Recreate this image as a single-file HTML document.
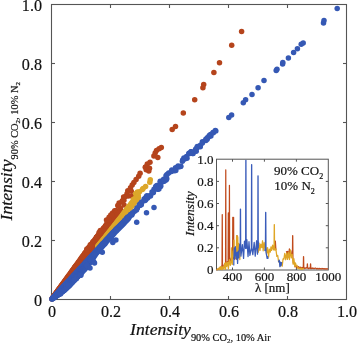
<!DOCTYPE html>
<html><head><meta charset="utf-8"><style>
html,body{margin:0;padding:0;background:#fff;}
svg{display:block;will-change:transform;}
text{font-family:"Liberation Serif",serif;fill:#111;stroke:#111;stroke-width:0.2px;}
.tk{font-size:17px;}
.ti{font-size:17.7px;font-style:italic;}
.sb{font-size:10.4px;font-style:normal;}
.ss{font-size:7px;font-style:normal;}
.it{font-size:13px;}
.iss{font-size:8px;}
</style></head><body>
<svg width="357" height="344" viewBox="0 0 357 344">
<rect x="51.5" y="4.5" width="295" height="295" fill="none" stroke="#555" stroke-width="1.1"/><line x1="110.5" y1="299.5" x2="110.5" y2="296" stroke="#555" stroke-width="1.1"/><line x1="110.5" y1="4.5" x2="110.5" y2="8" stroke="#555" stroke-width="1.1"/><line x1="51.5" y1="240.5" x2="55" y2="240.5" stroke="#555" stroke-width="1.1"/><line x1="346.5" y1="240.5" x2="343" y2="240.5" stroke="#555" stroke-width="1.1"/><line x1="169.5" y1="299.5" x2="169.5" y2="296" stroke="#555" stroke-width="1.1"/><line x1="169.5" y1="4.5" x2="169.5" y2="8" stroke="#555" stroke-width="1.1"/><line x1="51.5" y1="181.5" x2="55" y2="181.5" stroke="#555" stroke-width="1.1"/><line x1="346.5" y1="181.5" x2="343" y2="181.5" stroke="#555" stroke-width="1.1"/><line x1="228.5" y1="299.5" x2="228.5" y2="296" stroke="#555" stroke-width="1.1"/><line x1="228.5" y1="4.5" x2="228.5" y2="8" stroke="#555" stroke-width="1.1"/><line x1="51.5" y1="122.5" x2="55" y2="122.5" stroke="#555" stroke-width="1.1"/><line x1="346.5" y1="122.5" x2="343" y2="122.5" stroke="#555" stroke-width="1.1"/><line x1="287.5" y1="299.5" x2="287.5" y2="296" stroke="#555" stroke-width="1.1"/><line x1="287.5" y1="4.5" x2="287.5" y2="8" stroke="#555" stroke-width="1.1"/><line x1="51.5" y1="63.5" x2="55" y2="63.5" stroke="#555" stroke-width="1.1"/><line x1="346.5" y1="63.5" x2="343" y2="63.5" stroke="#555" stroke-width="1.1"/>
<g><g fill="#b5441c"><circle cx="52.0" cy="298.9" r="2.75"/><circle cx="52.0" cy="298.8" r="2.75"/><circle cx="53.0" cy="297.6" r="2.75"/><circle cx="53.0" cy="297.5" r="2.75"/><circle cx="53.0" cy="297.4" r="2.75"/><circle cx="54.0" cy="296.3" r="2.75"/><circle cx="54.0" cy="296.2" r="2.75"/><circle cx="54.0" cy="296.1" r="2.75"/><circle cx="54.0" cy="296.0" r="2.75"/><circle cx="55.0" cy="295.1" r="2.75"/><circle cx="55.0" cy="295.0" r="2.75"/><circle cx="55.0" cy="294.9" r="2.75"/><circle cx="55.0" cy="294.8" r="2.75"/><circle cx="55.0" cy="294.7" r="2.75"/><circle cx="56.0" cy="293.8" r="2.75"/><circle cx="56.0" cy="293.7" r="2.75"/><circle cx="56.0" cy="293.6" r="2.75"/><circle cx="56.0" cy="293.5" r="2.75"/><circle cx="56.0" cy="293.4" r="2.75"/><circle cx="56.0" cy="293.3" r="2.75"/><circle cx="57.0" cy="292.5" r="2.75"/><circle cx="57.0" cy="292.4" r="2.75"/><circle cx="57.0" cy="292.3" r="2.75"/><circle cx="57.0" cy="292.2" r="2.75"/><circle cx="57.0" cy="292.1" r="2.75"/><circle cx="57.0" cy="292.0" r="2.75"/><circle cx="57.0" cy="291.9" r="2.75"/><circle cx="58.0" cy="291.2" r="2.75"/><circle cx="58.0" cy="291.1" r="2.75"/><circle cx="58.0" cy="291.0" r="2.75"/><circle cx="58.0" cy="290.9" r="2.75"/><circle cx="58.0" cy="290.7" r="2.75"/><circle cx="58.0" cy="290.6" r="2.75"/><circle cx="58.0" cy="290.5" r="2.75"/><circle cx="59.0" cy="290.0" r="2.75"/><circle cx="59.0" cy="289.8" r="2.75"/><circle cx="59.0" cy="289.7" r="2.75"/><circle cx="59.0" cy="289.5" r="2.75"/><circle cx="59.0" cy="289.4" r="2.75"/><circle cx="59.0" cy="289.2" r="2.75"/><circle cx="59.0" cy="289.1" r="2.75"/><circle cx="60.0" cy="288.7" r="2.75"/><circle cx="60.0" cy="288.5" r="2.75"/><circle cx="60.0" cy="288.4" r="2.75"/><circle cx="60.0" cy="288.2" r="2.75"/><circle cx="60.0" cy="288.0" r="2.75"/><circle cx="60.0" cy="287.9" r="2.75"/><circle cx="60.0" cy="287.7" r="2.75"/><circle cx="61.0" cy="287.4" r="2.75"/><circle cx="61.0" cy="287.2" r="2.75"/><circle cx="61.0" cy="287.1" r="2.75"/><circle cx="61.0" cy="286.9" r="2.75"/><circle cx="61.0" cy="286.7" r="2.75"/><circle cx="61.0" cy="286.5" r="2.75"/><circle cx="61.0" cy="286.3" r="2.75"/><circle cx="62.0" cy="286.2" r="2.75"/><circle cx="62.0" cy="286.0" r="2.75"/><circle cx="62.0" cy="285.7" r="2.75"/><circle cx="62.0" cy="285.5" r="2.75"/><circle cx="62.0" cy="285.3" r="2.75"/><circle cx="62.0" cy="285.1" r="2.75"/><circle cx="62.0" cy="285.0" r="2.75"/><circle cx="63.0" cy="284.9" r="2.75"/><circle cx="63.0" cy="284.7" r="2.75"/><circle cx="63.0" cy="284.4" r="2.75"/><circle cx="63.0" cy="284.2" r="2.75"/><circle cx="63.0" cy="284.0" r="2.75"/><circle cx="63.0" cy="283.7" r="2.75"/><circle cx="63.0" cy="283.6" r="2.75"/><circle cx="64.0" cy="283.6" r="2.75"/><circle cx="64.0" cy="283.4" r="2.75"/><circle cx="64.0" cy="283.1" r="2.75"/><circle cx="64.0" cy="282.9" r="2.75"/><circle cx="64.0" cy="282.6" r="2.75"/><circle cx="64.0" cy="282.4" r="2.75"/><circle cx="64.0" cy="282.2" r="2.75"/><circle cx="65.0" cy="282.4" r="2.75"/><circle cx="65.0" cy="282.1" r="2.75"/><circle cx="65.0" cy="281.8" r="2.75"/><circle cx="65.0" cy="281.5" r="2.75"/><circle cx="65.0" cy="281.3" r="2.75"/><circle cx="65.0" cy="281.0" r="2.75"/><circle cx="65.0" cy="280.8" r="2.75"/><circle cx="66.0" cy="281.1" r="2.75"/><circle cx="66.0" cy="280.8" r="2.75"/><circle cx="66.0" cy="280.5" r="2.75"/><circle cx="66.0" cy="280.2" r="2.75"/><circle cx="66.0" cy="279.9" r="2.75"/><circle cx="66.0" cy="279.6" r="2.75"/><circle cx="66.0" cy="279.4" r="2.75"/><circle cx="67.0" cy="279.8" r="2.75"/><circle cx="67.0" cy="279.5" r="2.75"/><circle cx="67.0" cy="279.2" r="2.75"/><circle cx="67.0" cy="278.9" r="2.75"/><circle cx="67.0" cy="278.6" r="2.75"/><circle cx="67.0" cy="278.3" r="2.75"/><circle cx="67.0" cy="278.0" r="2.75"/><circle cx="68.0" cy="278.5" r="2.75"/><circle cx="68.0" cy="278.2" r="2.75"/><circle cx="68.0" cy="277.9" r="2.75"/><circle cx="68.0" cy="277.6" r="2.75"/><circle cx="68.0" cy="277.2" r="2.75"/><circle cx="68.0" cy="276.9" r="2.75"/><circle cx="68.0" cy="276.6" r="2.75"/><circle cx="69.0" cy="277.3" r="2.75"/><circle cx="69.0" cy="276.9" r="2.75"/><circle cx="69.0" cy="276.6" r="2.75"/><circle cx="69.0" cy="276.2" r="2.75"/><circle cx="69.0" cy="275.9" r="2.75"/><circle cx="69.0" cy="275.5" r="2.75"/><circle cx="69.0" cy="275.3" r="2.75"/><circle cx="70.0" cy="276.0" r="2.75"/><circle cx="70.0" cy="275.6" r="2.75"/><circle cx="70.0" cy="275.3" r="2.75"/><circle cx="70.0" cy="274.9" r="2.75"/><circle cx="70.0" cy="274.5" r="2.75"/><circle cx="70.0" cy="274.2" r="2.75"/><circle cx="70.0" cy="273.9" r="2.75"/><circle cx="71.0" cy="274.7" r="2.75"/><circle cx="71.0" cy="274.3" r="2.75"/><circle cx="71.0" cy="274.0" r="2.75"/><circle cx="71.0" cy="273.6" r="2.75"/><circle cx="71.0" cy="273.2" r="2.75"/><circle cx="71.0" cy="272.8" r="2.75"/><circle cx="71.0" cy="272.5" r="2.75"/><circle cx="72.0" cy="273.5" r="2.75"/><circle cx="72.0" cy="273.1" r="2.75"/><circle cx="72.0" cy="272.6" r="2.75"/><circle cx="72.0" cy="272.2" r="2.75"/><circle cx="72.0" cy="271.8" r="2.75"/><circle cx="72.0" cy="271.4" r="2.75"/><circle cx="72.0" cy="271.1" r="2.75"/><circle cx="73.0" cy="272.2" r="2.75"/><circle cx="73.0" cy="271.8" r="2.75"/><circle cx="73.0" cy="271.3" r="2.75"/><circle cx="73.0" cy="270.9" r="2.75"/><circle cx="73.0" cy="270.5" r="2.75"/><circle cx="73.0" cy="270.0" r="2.75"/><circle cx="73.0" cy="269.7" r="2.75"/><circle cx="74.0" cy="270.9" r="2.75"/><circle cx="74.0" cy="270.5" r="2.75"/><circle cx="74.0" cy="270.0" r="2.75"/><circle cx="74.0" cy="269.6" r="2.75"/><circle cx="74.0" cy="269.1" r="2.75"/><circle cx="74.0" cy="268.7" r="2.75"/><circle cx="74.0" cy="268.3" r="2.75"/><circle cx="75.0" cy="269.7" r="2.75"/><circle cx="75.0" cy="269.2" r="2.75"/><circle cx="75.0" cy="268.7" r="2.75"/><circle cx="75.0" cy="268.2" r="2.75"/><circle cx="75.0" cy="267.8" r="2.75"/><circle cx="75.0" cy="267.3" r="2.75"/><circle cx="75.0" cy="267.0" r="2.75"/><circle cx="76.0" cy="268.4" r="2.75"/><circle cx="76.0" cy="267.9" r="2.75"/><circle cx="76.0" cy="267.4" r="2.75"/><circle cx="76.0" cy="266.9" r="2.75"/><circle cx="76.0" cy="266.4" r="2.75"/><circle cx="76.0" cy="265.9" r="2.75"/><circle cx="76.0" cy="265.6" r="2.75"/><circle cx="77.0" cy="267.1" r="2.75"/><circle cx="77.0" cy="266.6" r="2.75"/><circle cx="77.0" cy="266.1" r="2.75"/><circle cx="77.0" cy="265.6" r="2.75"/><circle cx="77.0" cy="265.1" r="2.75"/><circle cx="77.0" cy="264.6" r="2.75"/><circle cx="77.0" cy="264.2" r="2.75"/><circle cx="78.0" cy="265.8" r="2.75"/><circle cx="78.0" cy="265.3" r="2.75"/><circle cx="78.0" cy="264.8" r="2.75"/><circle cx="78.0" cy="264.3" r="2.75"/><circle cx="78.0" cy="263.7" r="2.75"/><circle cx="78.0" cy="263.2" r="2.75"/><circle cx="78.0" cy="262.8" r="2.75"/><circle cx="79.0" cy="264.6" r="2.75"/><circle cx="79.0" cy="264.0" r="2.75"/><circle cx="79.0" cy="263.5" r="2.75"/><circle cx="79.0" cy="262.9" r="2.75"/><circle cx="79.0" cy="262.4" r="2.75"/><circle cx="79.0" cy="261.8" r="2.75"/><circle cx="79.0" cy="261.4" r="2.75"/><circle cx="80.0" cy="263.3" r="2.75"/><circle cx="80.0" cy="262.7" r="2.75"/><circle cx="80.0" cy="262.2" r="2.75"/><circle cx="80.0" cy="261.6" r="2.75"/><circle cx="80.0" cy="261.0" r="2.75"/><circle cx="80.0" cy="260.5" r="2.75"/><circle cx="80.0" cy="260.0" r="2.75"/><circle cx="81.0" cy="262.0" r="2.75"/><circle cx="81.0" cy="261.4" r="2.75"/><circle cx="81.0" cy="260.9" r="2.75"/><circle cx="81.0" cy="260.3" r="2.75"/><circle cx="81.0" cy="259.7" r="2.75"/><circle cx="81.0" cy="259.1" r="2.75"/><circle cx="81.0" cy="258.6" r="2.75"/><circle cx="82.0" cy="260.8" r="2.75"/><circle cx="82.0" cy="260.2" r="2.75"/><circle cx="82.0" cy="259.5" r="2.75"/><circle cx="82.0" cy="258.9" r="2.75"/><circle cx="82.0" cy="258.3" r="2.75"/><circle cx="82.0" cy="257.7" r="2.75"/><circle cx="82.0" cy="257.3" r="2.75"/><circle cx="83.0" cy="259.5" r="2.75"/><circle cx="83.0" cy="258.9" r="2.75"/><circle cx="83.0" cy="258.2" r="2.75"/><circle cx="83.0" cy="257.6" r="2.75"/><circle cx="83.0" cy="257.0" r="2.75"/><circle cx="83.0" cy="256.3" r="2.75"/><circle cx="83.0" cy="255.9" r="2.75"/><circle cx="84.0" cy="258.2" r="2.75"/><circle cx="84.0" cy="257.6" r="2.75"/><circle cx="84.0" cy="256.9" r="2.75"/><circle cx="84.0" cy="256.3" r="2.75"/><circle cx="84.0" cy="255.6" r="2.75"/><circle cx="84.0" cy="255.0" r="2.75"/><circle cx="84.0" cy="254.5" r="2.75"/><circle cx="85.0" cy="257.0" r="2.75"/><circle cx="85.0" cy="256.3" r="2.75"/><circle cx="85.0" cy="255.6" r="2.75"/><circle cx="85.0" cy="254.9" r="2.75"/><circle cx="85.0" cy="254.3" r="2.75"/><circle cx="85.0" cy="253.6" r="2.75"/><circle cx="85.0" cy="253.1" r="2.75"/><circle cx="86.0" cy="255.7" r="2.75"/><circle cx="86.0" cy="255.0" r="2.75"/><circle cx="86.0" cy="254.3" r="2.75"/><circle cx="86.0" cy="253.6" r="2.75"/><circle cx="86.0" cy="252.9" r="2.75"/><circle cx="86.0" cy="252.2" r="2.75"/><circle cx="86.0" cy="251.7" r="2.75"/><circle cx="87.0" cy="254.4" r="2.75"/><circle cx="87.0" cy="253.7" r="2.75"/><circle cx="87.0" cy="253.0" r="2.75"/><circle cx="87.0" cy="252.3" r="2.75"/><circle cx="87.0" cy="251.6" r="2.75"/><circle cx="87.0" cy="250.9" r="2.75"/><circle cx="87.0" cy="250.3" r="2.75"/><circle cx="88.0" cy="253.1" r="2.75"/><circle cx="88.0" cy="252.4" r="2.75"/><circle cx="88.0" cy="251.7" r="2.75"/><circle cx="88.0" cy="251.0" r="2.75"/><circle cx="88.0" cy="250.2" r="2.75"/><circle cx="88.0" cy="249.5" r="2.75"/><circle cx="88.0" cy="248.9" r="2.75"/><circle cx="89.0" cy="251.9" r="2.75"/><circle cx="89.0" cy="251.1" r="2.75"/><circle cx="89.0" cy="250.4" r="2.75"/><circle cx="89.0" cy="249.6" r="2.75"/><circle cx="89.0" cy="248.9" r="2.75"/><circle cx="89.0" cy="248.1" r="2.75"/><circle cx="89.0" cy="247.6" r="2.75"/><circle cx="90.0" cy="250.6" r="2.75"/><circle cx="90.0" cy="249.8" r="2.75"/><circle cx="90.0" cy="249.1" r="2.75"/><circle cx="90.0" cy="248.3" r="2.75"/><circle cx="90.0" cy="247.5" r="2.75"/><circle cx="90.0" cy="246.8" r="2.75"/><circle cx="90.0" cy="246.2" r="2.75"/><circle cx="91.0" cy="249.3" r="2.75"/><circle cx="91.0" cy="248.5" r="2.75"/><circle cx="91.0" cy="247.8" r="2.75"/><circle cx="91.0" cy="247.0" r="2.75"/><circle cx="91.0" cy="246.2" r="2.75"/><circle cx="91.0" cy="245.4" r="2.75"/><circle cx="91.0" cy="244.8" r="2.75"/><circle cx="92.0" cy="248.1" r="2.75"/><circle cx="92.0" cy="247.3" r="2.75"/><circle cx="92.0" cy="246.4" r="2.75"/><circle cx="92.0" cy="245.6" r="2.75"/><circle cx="92.0" cy="244.8" r="2.75"/><circle cx="92.0" cy="244.0" r="2.75"/><circle cx="92.0" cy="243.5" r="2.75"/><circle cx="93.0" cy="246.8" r="2.75"/><circle cx="93.0" cy="246.0" r="2.75"/><circle cx="93.0" cy="245.1" r="2.75"/><circle cx="93.0" cy="244.3" r="2.75"/><circle cx="93.0" cy="243.5" r="2.75"/><circle cx="93.0" cy="242.6" r="2.75"/><circle cx="93.0" cy="242.2" r="2.75"/><circle cx="94.0" cy="245.5" r="2.75"/><circle cx="94.0" cy="244.7" r="2.75"/><circle cx="94.0" cy="243.8" r="2.75"/><circle cx="94.0" cy="243.0" r="2.75"/><circle cx="94.0" cy="242.1" r="2.75"/><circle cx="94.0" cy="241.3" r="2.75"/><circle cx="94.0" cy="240.9" r="2.75"/><circle cx="95.0" cy="244.3" r="2.75"/><circle cx="95.0" cy="243.4" r="2.75"/><circle cx="95.0" cy="242.5" r="2.75"/><circle cx="95.0" cy="241.6" r="2.75"/><circle cx="95.0" cy="240.8" r="2.75"/><circle cx="95.0" cy="239.9" r="2.75"/><circle cx="95.0" cy="239.6" r="2.75"/><circle cx="96.0" cy="243.0" r="2.75"/><circle cx="96.0" cy="242.1" r="2.75"/><circle cx="96.0" cy="241.2" r="2.75"/><circle cx="96.0" cy="240.3" r="2.75"/><circle cx="96.0" cy="239.4" r="2.75"/><circle cx="96.0" cy="238.5" r="2.75"/><circle cx="96.0" cy="238.2" r="2.75"/><circle cx="97.0" cy="241.7" r="2.75"/><circle cx="97.0" cy="240.8" r="2.75"/><circle cx="97.0" cy="239.9" r="2.75"/><circle cx="97.0" cy="239.0" r="2.75"/><circle cx="97.0" cy="238.1" r="2.75"/><circle cx="97.0" cy="237.2" r="2.75"/><circle cx="97.0" cy="236.9" r="2.75"/><circle cx="98.0" cy="240.4" r="2.75"/><circle cx="98.0" cy="239.5" r="2.75"/><circle cx="98.0" cy="238.6" r="2.75"/><circle cx="98.0" cy="237.7" r="2.75"/><circle cx="98.0" cy="236.7" r="2.75"/><circle cx="98.0" cy="235.8" r="2.75"/><circle cx="98.0" cy="235.6" r="2.75"/><circle cx="99.0" cy="239.2" r="2.75"/><circle cx="99.0" cy="238.2" r="2.75"/><circle cx="99.0" cy="237.3" r="2.75"/><circle cx="99.0" cy="236.3" r="2.75"/><circle cx="99.0" cy="235.4" r="2.75"/><circle cx="99.0" cy="234.4" r="2.75"/><circle cx="99.0" cy="234.3" r="2.75"/><circle cx="100.0" cy="237.9" r="2.75"/><circle cx="100.0" cy="236.9" r="2.75"/><circle cx="100.0" cy="236.0" r="2.75"/><circle cx="100.0" cy="235.0" r="2.75"/><circle cx="100.0" cy="234.0" r="2.75"/><circle cx="100.0" cy="233.1" r="2.75"/><circle cx="100.0" cy="233.0" r="2.75"/><circle cx="101.0" cy="236.6" r="2.75"/><circle cx="101.0" cy="235.6" r="2.75"/><circle cx="101.0" cy="234.7" r="2.75"/><circle cx="101.0" cy="233.7" r="2.75"/><circle cx="101.0" cy="232.7" r="2.75"/><circle cx="101.0" cy="231.7" r="2.75"/><circle cx="102.0" cy="235.4" r="2.75"/><circle cx="102.0" cy="234.4" r="2.75"/><circle cx="102.0" cy="233.3" r="2.75"/><circle cx="102.0" cy="232.3" r="2.75"/><circle cx="102.0" cy="231.3" r="2.75"/><circle cx="102.0" cy="230.4" r="2.75"/><circle cx="103.0" cy="234.1" r="2.75"/><circle cx="103.0" cy="233.1" r="2.75"/><circle cx="103.0" cy="232.0" r="2.75"/><circle cx="103.0" cy="231.0" r="2.75"/><circle cx="103.0" cy="230.0" r="2.75"/><circle cx="103.0" cy="229.1" r="2.75"/><circle cx="104.0" cy="232.8" r="2.75"/><circle cx="104.0" cy="231.8" r="2.75"/><circle cx="104.0" cy="230.7" r="2.75"/><circle cx="104.0" cy="229.7" r="2.75"/><circle cx="104.0" cy="228.6" r="2.75"/><circle cx="104.0" cy="227.8" r="2.75"/><circle cx="64.4" cy="282.3" r="2.75"/><circle cx="71.2" cy="273.0" r="2.75"/><circle cx="84.5" cy="257.6" r="2.75"/><circle cx="52.7" cy="297.9" r="2.75"/><circle cx="65.5" cy="281.4" r="2.75"/><circle cx="103.8" cy="230.8" r="2.75"/><circle cx="95.5" cy="241.4" r="2.75"/><circle cx="85.2" cy="256.3" r="2.75"/><circle cx="85.0" cy="253.3" r="2.75"/><circle cx="79.2" cy="261.8" r="2.75"/><circle cx="86.9" cy="254.6" r="2.75"/><circle cx="91.4" cy="246.1" r="2.75"/><circle cx="67.7" cy="279.1" r="2.75"/><circle cx="97.0" cy="239.5" r="2.75"/><circle cx="89.4" cy="247.3" r="2.75"/><circle cx="89.1" cy="247.4" r="2.75"/><circle cx="72.5" cy="270.7" r="2.75"/><circle cx="75.1" cy="266.8" r="2.75"/><circle cx="97.7" cy="240.7" r="2.75"/><circle cx="59.1" cy="289.7" r="2.75"/><circle cx="102.2" cy="233.0" r="2.75"/><circle cx="84.6" cy="256.5" r="2.75"/><circle cx="78.4" cy="264.2" r="2.75"/><circle cx="70.2" cy="274.4" r="2.75"/><circle cx="82.4" cy="256.8" r="2.75"/><circle cx="87.5" cy="249.7" r="2.75"/><circle cx="96.5" cy="237.2" r="2.75"/><circle cx="86.9" cy="254.1" r="2.75"/><circle cx="96.8" cy="237.0" r="2.75"/><circle cx="104.0" cy="231.2" r="2.75"/><circle cx="104.0" cy="228.1" r="2.75"/><circle cx="105.5" cy="230.9" r="2.75"/><circle cx="105.5" cy="229.3" r="2.75"/><circle cx="105.5" cy="227.7" r="2.75"/><circle cx="105.5" cy="226.1" r="2.75"/><circle cx="105.5" cy="225.7" r="2.75"/><circle cx="107.0" cy="229.0" r="2.75"/><circle cx="107.0" cy="227.3" r="2.75"/><circle cx="107.0" cy="225.7" r="2.75"/><circle cx="107.0" cy="224.0" r="2.75"/><circle cx="107.0" cy="223.5" r="2.75"/><circle cx="108.5" cy="227.1" r="2.75"/><circle cx="108.5" cy="225.4" r="2.75"/><circle cx="108.5" cy="223.7" r="2.75"/><circle cx="108.5" cy="222.0" r="2.75"/><circle cx="108.5" cy="221.4" r="2.75"/><circle cx="110.0" cy="225.2" r="2.75"/><circle cx="110.0" cy="223.4" r="2.75"/><circle cx="110.0" cy="221.7" r="2.75"/><circle cx="110.0" cy="219.9" r="2.75"/><circle cx="110.0" cy="219.2" r="2.75"/><circle cx="111.5" cy="223.3" r="2.75"/><circle cx="111.5" cy="221.5" r="2.75"/><circle cx="111.5" cy="219.7" r="2.75"/><circle cx="111.5" cy="217.9" r="2.75"/><circle cx="111.5" cy="217.0" r="2.75"/><circle cx="113.0" cy="221.4" r="2.75"/><circle cx="113.0" cy="219.6" r="2.75"/><circle cx="113.0" cy="217.7" r="2.75"/><circle cx="113.0" cy="215.9" r="2.75"/><circle cx="113.0" cy="214.9" r="2.75"/><circle cx="114.5" cy="219.5" r="2.75"/><circle cx="114.5" cy="217.6" r="2.75"/><circle cx="114.5" cy="215.7" r="2.75"/><circle cx="114.5" cy="213.8" r="2.75"/><circle cx="114.5" cy="212.7" r="2.75"/><circle cx="116.0" cy="217.6" r="2.75"/><circle cx="116.0" cy="215.6" r="2.75"/><circle cx="116.0" cy="213.7" r="2.75"/><circle cx="116.0" cy="211.8" r="2.75"/><circle cx="116.0" cy="210.5" r="2.75"/><circle cx="106.0" cy="226.4" r="2.75"/><circle cx="111.6" cy="220.2" r="2.75"/><circle cx="106.6" cy="224.9" r="2.75"/><circle cx="113.7" cy="217.1" r="2.75"/><circle cx="110.1" cy="224.0" r="2.75"/><circle cx="104.0" cy="231.1" r="2.75"/><circle cx="111.0" cy="224.0" r="2.75"/><circle cx="113.5" cy="219.5" r="2.75"/><circle cx="106.8" cy="229.6" r="2.75"/><circle cx="116.0" cy="212.1" r="2.75"/><circle cx="114.5" cy="215.1" r="2.75"/><circle cx="104.4" cy="230.8" r="2.75"/><circle cx="110.0" cy="225.0" r="2.75"/><circle cx="115.4" cy="215.9" r="2.75"/><circle cx="105.9" cy="225.8" r="2.75"/><circle cx="241.6" cy="31.6" r="2.75"/><circle cx="231.7" cy="45.3" r="2.75"/><circle cx="219.5" cy="62.8" r="2.75"/><circle cx="213.9" cy="72.4" r="2.75"/><circle cx="203.7" cy="84.6" r="2.75"/><circle cx="202.9" cy="87.8" r="2.75"/><circle cx="194.7" cy="99.8" r="2.75"/><circle cx="183.3" cy="113.0" r="2.75"/><circle cx="175.5" cy="126.4" r="2.75"/><circle cx="172.2" cy="129.5" r="2.75"/><circle cx="161.3" cy="147.4" r="2.75"/><circle cx="159.1" cy="148.7" r="2.75"/><circle cx="156.5" cy="150.5" r="2.75"/><circle cx="155.2" cy="153.1" r="2.75"/><circle cx="153.9" cy="156.1" r="2.75"/><circle cx="157.8" cy="157.4" r="2.75"/><circle cx="150.0" cy="162.2" r="2.75"/><circle cx="147.3" cy="164.0" r="2.75"/><circle cx="145.6" cy="167.0" r="2.75"/><circle cx="149.5" cy="168.3" r="2.75"/><circle cx="145.3" cy="167.2" r="2.75"/><circle cx="146.2" cy="169.8" r="2.75"/><circle cx="148.8" cy="171.1" r="2.75"/><circle cx="140.1" cy="173.3" r="2.75"/><circle cx="138.7" cy="176.3" r="2.75"/><circle cx="136.1" cy="179.4" r="2.75"/><circle cx="133.9" cy="182.4" r="2.75"/><circle cx="132.2" cy="185.1" r="2.75"/><circle cx="130.5" cy="187.7" r="2.75"/><circle cx="127.8" cy="190.7" r="2.75"/><circle cx="131.3" cy="191.2" r="2.75"/><circle cx="127.0" cy="193.8" r="2.75"/><circle cx="132.2" cy="196.3" r="2.75"/><circle cx="125.5" cy="196.5" r="2.75"/><circle cx="128.5" cy="196.0" r="2.75"/><circle cx="123.9" cy="200.3" r="2.75"/><circle cx="122.2" cy="201.6" r="2.75"/><circle cx="119.1" cy="202.9" r="2.75"/><circle cx="117.8" cy="205.5" r="2.75"/><circle cx="120.4" cy="208.6" r="2.75"/><circle cx="114.7" cy="210.7" r="2.75"/><circle cx="112.6" cy="212.9" r="2.75"/><circle cx="110.8" cy="215.1" r="2.75"/><circle cx="109.1" cy="217.3" r="2.75"/><circle cx="106.5" cy="219.9" r="2.75"/><circle cx="116.9" cy="214.7" r="2.75"/><circle cx="121.3" cy="211.2" r="2.75"/><circle cx="124.0" cy="205.0" r="2.75"/><circle cx="119.0" cy="213.0" r="2.75"/><circle cx="113.0" cy="217.0" r="2.75"/><circle cx="110.0" cy="220.5" r="2.75"/><circle cx="100.3" cy="230.4" r="2.75"/><circle cx="118.5" cy="205.9" r="2.75"/><circle cx="93.0" cy="241.8" r="2.75"/><circle cx="88.7" cy="247.8" r="2.75"/><circle cx="90.3" cy="244.7" r="2.75"/><circle cx="123.6" cy="197.1" r="2.75"/><circle cx="99.1" cy="232.4" r="2.75"/><circle cx="111.7" cy="215.0" r="2.75"/><circle cx="86.9" cy="248.9" r="2.75"/><circle cx="108.7" cy="219.7" r="2.75"/><circle cx="86.8" cy="250.3" r="2.75"/><circle cx="122.4" cy="200.7" r="2.75"/></g><g fill="#dca72a"><circle cx="98.0" cy="246.7" r="2.75"/><circle cx="98.0" cy="246.3" r="2.75"/><circle cx="98.0" cy="246.0" r="2.75"/><circle cx="99.0" cy="245.5" r="2.75"/><circle cx="99.0" cy="245.1" r="2.75"/><circle cx="99.0" cy="244.8" r="2.75"/><circle cx="100.0" cy="244.3" r="2.75"/><circle cx="100.0" cy="243.8" r="2.75"/><circle cx="100.0" cy="243.6" r="2.75"/><circle cx="101.0" cy="243.1" r="2.75"/><circle cx="101.0" cy="242.6" r="2.75"/><circle cx="101.0" cy="242.3" r="2.75"/><circle cx="102.0" cy="241.9" r="2.75"/><circle cx="102.0" cy="241.4" r="2.75"/><circle cx="102.0" cy="241.1" r="2.75"/><circle cx="103.0" cy="240.7" r="2.75"/><circle cx="103.0" cy="240.2" r="2.75"/><circle cx="103.0" cy="239.8" r="2.75"/><circle cx="104.0" cy="239.5" r="2.75"/><circle cx="104.0" cy="239.0" r="2.75"/><circle cx="104.0" cy="238.6" r="2.75"/><circle cx="105.0" cy="238.3" r="2.75"/><circle cx="105.0" cy="237.8" r="2.75"/><circle cx="105.0" cy="237.4" r="2.75"/><circle cx="106.0" cy="237.1" r="2.75"/><circle cx="106.0" cy="236.6" r="2.75"/><circle cx="106.0" cy="236.1" r="2.75"/><circle cx="107.0" cy="235.9" r="2.75"/><circle cx="107.0" cy="235.3" r="2.75"/><circle cx="107.0" cy="234.8" r="2.75"/><circle cx="108.0" cy="234.7" r="2.75"/><circle cx="108.0" cy="234.1" r="2.75"/><circle cx="108.0" cy="233.6" r="2.75"/><circle cx="109.0" cy="233.4" r="2.75"/><circle cx="109.0" cy="232.9" r="2.75"/><circle cx="109.0" cy="232.3" r="2.75"/><circle cx="110.0" cy="232.2" r="2.75"/><circle cx="110.0" cy="231.6" r="2.75"/><circle cx="110.0" cy="231.1" r="2.75"/><circle cx="111.0" cy="231.0" r="2.75"/><circle cx="111.0" cy="230.4" r="2.75"/><circle cx="111.0" cy="229.8" r="2.75"/><circle cx="112.0" cy="229.8" r="2.75"/><circle cx="112.0" cy="229.2" r="2.75"/><circle cx="112.0" cy="228.6" r="2.75"/><circle cx="112.0" cy="228.5" r="2.75"/><circle cx="113.0" cy="228.6" r="2.75"/><circle cx="113.0" cy="228.0" r="2.75"/><circle cx="113.0" cy="227.4" r="2.75"/><circle cx="113.0" cy="227.3" r="2.75"/><circle cx="114.0" cy="227.5" r="2.75"/><circle cx="114.0" cy="226.8" r="2.75"/><circle cx="114.0" cy="226.2" r="2.75"/><circle cx="114.0" cy="226.0" r="2.75"/><circle cx="115.0" cy="226.3" r="2.75"/><circle cx="115.0" cy="225.6" r="2.75"/><circle cx="115.0" cy="225.0" r="2.75"/><circle cx="115.0" cy="224.7" r="2.75"/><circle cx="116.0" cy="225.1" r="2.75"/><circle cx="116.0" cy="224.4" r="2.75"/><circle cx="116.0" cy="223.8" r="2.75"/><circle cx="116.0" cy="223.4" r="2.75"/><circle cx="117.0" cy="223.9" r="2.75"/><circle cx="117.0" cy="223.2" r="2.75"/><circle cx="117.0" cy="222.6" r="2.75"/><circle cx="117.0" cy="222.1" r="2.75"/><circle cx="118.0" cy="222.7" r="2.75"/><circle cx="118.0" cy="222.0" r="2.75"/><circle cx="118.0" cy="221.3" r="2.75"/><circle cx="118.0" cy="220.8" r="2.75"/><circle cx="119.0" cy="221.5" r="2.75"/><circle cx="119.0" cy="220.8" r="2.75"/><circle cx="119.0" cy="220.1" r="2.75"/><circle cx="119.0" cy="219.6" r="2.75"/><circle cx="120.0" cy="220.3" r="2.75"/><circle cx="120.0" cy="219.6" r="2.75"/><circle cx="120.0" cy="218.9" r="2.75"/><circle cx="120.0" cy="218.3" r="2.75"/><circle cx="121.0" cy="219.1" r="2.75"/><circle cx="121.0" cy="218.4" r="2.75"/><circle cx="121.0" cy="217.7" r="2.75"/><circle cx="121.0" cy="217.0" r="2.75"/><circle cx="122.0" cy="217.8" r="2.75"/><circle cx="122.0" cy="217.1" r="2.75"/><circle cx="122.0" cy="216.4" r="2.75"/><circle cx="122.0" cy="215.7" r="2.75"/><circle cx="123.0" cy="216.6" r="2.75"/><circle cx="123.0" cy="215.9" r="2.75"/><circle cx="123.0" cy="215.2" r="2.75"/><circle cx="123.0" cy="214.5" r="2.75"/><circle cx="123.0" cy="214.4" r="2.75"/><circle cx="124.0" cy="215.4" r="2.75"/><circle cx="124.0" cy="214.7" r="2.75"/><circle cx="124.0" cy="214.0" r="2.75"/><circle cx="124.0" cy="213.3" r="2.75"/><circle cx="124.0" cy="213.1" r="2.75"/><circle cx="125.0" cy="214.2" r="2.75"/><circle cx="125.0" cy="213.5" r="2.75"/><circle cx="125.0" cy="212.8" r="2.75"/><circle cx="125.0" cy="212.0" r="2.75"/><circle cx="125.0" cy="211.8" r="2.75"/><circle cx="126.0" cy="213.0" r="2.75"/><circle cx="126.0" cy="212.3" r="2.75"/><circle cx="126.0" cy="211.5" r="2.75"/><circle cx="126.0" cy="210.8" r="2.75"/><circle cx="126.0" cy="210.4" r="2.75"/><circle cx="127.0" cy="211.8" r="2.75"/><circle cx="127.0" cy="211.0" r="2.75"/><circle cx="127.0" cy="210.3" r="2.75"/><circle cx="127.0" cy="209.5" r="2.75"/><circle cx="127.0" cy="209.1" r="2.75"/><circle cx="128.0" cy="210.6" r="2.75"/><circle cx="128.0" cy="209.8" r="2.75"/><circle cx="128.0" cy="209.1" r="2.75"/><circle cx="128.0" cy="208.3" r="2.75"/><circle cx="128.0" cy="207.8" r="2.75"/><circle cx="129.0" cy="209.4" r="2.75"/><circle cx="129.0" cy="208.6" r="2.75"/><circle cx="129.0" cy="207.8" r="2.75"/><circle cx="129.0" cy="207.0" r="2.75"/><circle cx="129.0" cy="206.5" r="2.75"/><circle cx="130.0" cy="208.2" r="2.75"/><circle cx="130.0" cy="207.4" r="2.75"/><circle cx="130.0" cy="206.6" r="2.75"/><circle cx="130.0" cy="205.8" r="2.75"/><circle cx="130.0" cy="205.2" r="2.75"/><circle cx="131.0" cy="206.9" r="2.75"/><circle cx="131.0" cy="206.1" r="2.75"/><circle cx="131.0" cy="205.3" r="2.75"/><circle cx="131.0" cy="204.6" r="2.75"/><circle cx="131.0" cy="203.8" r="2.75"/><circle cx="132.0" cy="205.7" r="2.75"/><circle cx="132.0" cy="204.9" r="2.75"/><circle cx="132.0" cy="204.1" r="2.75"/><circle cx="132.0" cy="203.3" r="2.75"/><circle cx="132.0" cy="202.5" r="2.75"/><circle cx="133.0" cy="204.5" r="2.75"/><circle cx="133.0" cy="203.7" r="2.75"/><circle cx="133.0" cy="202.9" r="2.75"/><circle cx="133.0" cy="202.0" r="2.75"/><circle cx="133.0" cy="201.3" r="2.75"/><circle cx="134.0" cy="203.2" r="2.75"/><circle cx="134.0" cy="202.4" r="2.75"/><circle cx="134.0" cy="201.6" r="2.75"/><circle cx="134.0" cy="200.8" r="2.75"/><circle cx="134.0" cy="200.1" r="2.75"/><circle cx="135.0" cy="202.0" r="2.75"/><circle cx="135.0" cy="201.2" r="2.75"/><circle cx="135.0" cy="200.3" r="2.75"/><circle cx="135.0" cy="199.5" r="2.75"/><circle cx="135.0" cy="198.9" r="2.75"/><circle cx="136.0" cy="200.8" r="2.75"/><circle cx="136.0" cy="199.9" r="2.75"/><circle cx="136.0" cy="199.1" r="2.75"/><circle cx="136.0" cy="198.2" r="2.75"/><circle cx="136.0" cy="197.7" r="2.75"/><circle cx="137.0" cy="199.5" r="2.75"/><circle cx="137.0" cy="198.7" r="2.75"/><circle cx="137.0" cy="197.8" r="2.75"/><circle cx="137.0" cy="197.0" r="2.75"/><circle cx="137.0" cy="196.5" r="2.75"/><circle cx="138.0" cy="198.3" r="2.75"/><circle cx="138.0" cy="197.4" r="2.75"/><circle cx="138.0" cy="196.6" r="2.75"/><circle cx="138.0" cy="195.7" r="2.75"/><circle cx="138.0" cy="195.3" r="2.75"/><circle cx="150.3" cy="179.8" r="2.75"/><circle cx="149.8" cy="182.3" r="2.75"/><circle cx="145.6" cy="186.5" r="2.75"/><circle cx="143.1" cy="188.5" r="2.75"/><circle cx="142.4" cy="189.4" r="2.75"/><circle cx="139.5" cy="191.7" r="2.75"/><circle cx="136.6" cy="193.4" r="2.75"/><circle cx="135.7" cy="193.8" r="2.75"/><circle cx="137.4" cy="192.0" r="2.75"/><circle cx="133.5" cy="199.2" r="2.75"/></g><g fill="#3558b4"><circle cx="52.0" cy="299.1" r="2.75"/><circle cx="52.0" cy="299.0" r="2.75"/><circle cx="53.0" cy="298.4" r="2.75"/><circle cx="53.0" cy="298.3" r="2.75"/><circle cx="53.0" cy="298.2" r="2.75"/><circle cx="53.0" cy="298.1" r="2.75"/><circle cx="53.0" cy="298.0" r="2.75"/><circle cx="53.0" cy="297.9" r="2.75"/><circle cx="54.0" cy="297.7" r="2.75"/><circle cx="54.0" cy="297.6" r="2.75"/><circle cx="54.0" cy="297.5" r="2.75"/><circle cx="54.0" cy="297.4" r="2.75"/><circle cx="54.0" cy="297.3" r="2.75"/><circle cx="54.0" cy="297.2" r="2.75"/><circle cx="54.0" cy="297.1" r="2.75"/><circle cx="54.0" cy="297.0" r="2.75"/><circle cx="54.0" cy="296.9" r="2.75"/><circle cx="54.0" cy="296.8" r="2.75"/><circle cx="55.0" cy="297.0" r="2.75"/><circle cx="55.0" cy="296.9" r="2.75"/><circle cx="55.0" cy="296.8" r="2.75"/><circle cx="55.0" cy="296.7" r="2.75"/><circle cx="55.0" cy="296.6" r="2.75"/><circle cx="55.0" cy="296.5" r="2.75"/><circle cx="55.0" cy="296.4" r="2.75"/><circle cx="55.0" cy="296.3" r="2.75"/><circle cx="55.0" cy="296.2" r="2.75"/><circle cx="55.0" cy="296.1" r="2.75"/><circle cx="55.0" cy="296.0" r="2.75"/><circle cx="55.0" cy="295.9" r="2.75"/><circle cx="55.0" cy="295.8" r="2.75"/><circle cx="55.0" cy="295.7" r="2.75"/><circle cx="56.0" cy="296.3" r="2.75"/><circle cx="56.0" cy="296.2" r="2.75"/><circle cx="56.0" cy="296.1" r="2.75"/><circle cx="56.0" cy="296.0" r="2.75"/><circle cx="56.0" cy="295.9" r="2.75"/><circle cx="56.0" cy="295.8" r="2.75"/><circle cx="56.0" cy="295.7" r="2.75"/><circle cx="56.0" cy="295.6" r="2.75"/><circle cx="56.0" cy="295.5" r="2.75"/><circle cx="56.0" cy="295.4" r="2.75"/><circle cx="56.0" cy="295.3" r="2.75"/><circle cx="56.0" cy="295.2" r="2.75"/><circle cx="56.0" cy="295.1" r="2.75"/><circle cx="56.0" cy="295.0" r="2.75"/><circle cx="56.0" cy="294.9" r="2.75"/><circle cx="56.0" cy="294.8" r="2.75"/><circle cx="56.0" cy="294.7" r="2.75"/><circle cx="56.0" cy="294.6" r="2.75"/><circle cx="57.0" cy="295.6" r="2.75"/><circle cx="57.0" cy="295.5" r="2.75"/><circle cx="57.0" cy="295.4" r="2.75"/><circle cx="57.0" cy="295.3" r="2.75"/><circle cx="57.0" cy="295.2" r="2.75"/><circle cx="57.0" cy="295.1" r="2.75"/><circle cx="57.0" cy="294.9" r="2.75"/><circle cx="57.0" cy="294.8" r="2.75"/><circle cx="57.0" cy="294.7" r="2.75"/><circle cx="57.0" cy="294.6" r="2.75"/><circle cx="57.0" cy="294.5" r="2.75"/><circle cx="57.0" cy="294.4" r="2.75"/><circle cx="57.0" cy="294.3" r="2.75"/><circle cx="57.0" cy="294.2" r="2.75"/><circle cx="57.0" cy="294.1" r="2.75"/><circle cx="57.0" cy="294.0" r="2.75"/><circle cx="57.0" cy="293.8" r="2.75"/><circle cx="57.0" cy="293.7" r="2.75"/><circle cx="57.0" cy="293.6" r="2.75"/><circle cx="57.0" cy="293.5" r="2.75"/><circle cx="58.0" cy="294.9" r="2.75"/><circle cx="58.0" cy="294.8" r="2.75"/><circle cx="58.0" cy="294.6" r="2.75"/><circle cx="58.0" cy="294.5" r="2.75"/><circle cx="58.0" cy="294.4" r="2.75"/><circle cx="58.0" cy="294.2" r="2.75"/><circle cx="58.0" cy="294.1" r="2.75"/><circle cx="58.0" cy="294.0" r="2.75"/><circle cx="58.0" cy="293.8" r="2.75"/><circle cx="58.0" cy="293.7" r="2.75"/><circle cx="58.0" cy="293.6" r="2.75"/><circle cx="58.0" cy="293.5" r="2.75"/><circle cx="58.0" cy="293.3" r="2.75"/><circle cx="58.0" cy="293.2" r="2.75"/><circle cx="58.0" cy="293.1" r="2.75"/><circle cx="58.0" cy="292.9" r="2.75"/><circle cx="58.0" cy="292.8" r="2.75"/><circle cx="58.0" cy="292.7" r="2.75"/><circle cx="58.0" cy="292.5" r="2.75"/><circle cx="58.0" cy="292.4" r="2.75"/><circle cx="59.0" cy="294.2" r="2.75"/><circle cx="59.0" cy="294.0" r="2.75"/><circle cx="59.0" cy="293.9" r="2.75"/><circle cx="59.0" cy="293.7" r="2.75"/><circle cx="59.0" cy="293.6" r="2.75"/><circle cx="59.0" cy="293.4" r="2.75"/><circle cx="59.0" cy="293.3" r="2.75"/><circle cx="59.0" cy="293.1" r="2.75"/><circle cx="59.0" cy="293.0" r="2.75"/><circle cx="59.0" cy="292.8" r="2.75"/><circle cx="59.0" cy="292.7" r="2.75"/><circle cx="59.0" cy="292.5" r="2.75"/><circle cx="59.0" cy="292.4" r="2.75"/><circle cx="59.0" cy="292.2" r="2.75"/><circle cx="59.0" cy="292.1" r="2.75"/><circle cx="59.0" cy="291.9" r="2.75"/><circle cx="59.0" cy="291.8" r="2.75"/><circle cx="59.0" cy="291.6" r="2.75"/><circle cx="59.0" cy="291.5" r="2.75"/><circle cx="59.0" cy="291.3" r="2.75"/><circle cx="60.0" cy="293.4" r="2.75"/><circle cx="60.0" cy="293.3" r="2.75"/><circle cx="60.0" cy="293.1" r="2.75"/><circle cx="60.0" cy="292.9" r="2.75"/><circle cx="60.0" cy="292.8" r="2.75"/><circle cx="60.0" cy="292.6" r="2.75"/><circle cx="60.0" cy="292.4" r="2.75"/><circle cx="60.0" cy="292.2" r="2.75"/><circle cx="60.0" cy="292.1" r="2.75"/><circle cx="60.0" cy="291.9" r="2.75"/><circle cx="60.0" cy="291.7" r="2.75"/><circle cx="60.0" cy="291.6" r="2.75"/><circle cx="60.0" cy="291.4" r="2.75"/><circle cx="60.0" cy="291.2" r="2.75"/><circle cx="60.0" cy="291.1" r="2.75"/><circle cx="60.0" cy="290.9" r="2.75"/><circle cx="60.0" cy="290.7" r="2.75"/><circle cx="60.0" cy="290.5" r="2.75"/><circle cx="60.0" cy="290.4" r="2.75"/><circle cx="60.0" cy="290.2" r="2.75"/><circle cx="61.0" cy="292.7" r="2.75"/><circle cx="61.0" cy="292.5" r="2.75"/><circle cx="61.0" cy="292.3" r="2.75"/><circle cx="61.0" cy="292.1" r="2.75"/><circle cx="61.0" cy="291.9" r="2.75"/><circle cx="61.0" cy="291.8" r="2.75"/><circle cx="61.0" cy="291.6" r="2.75"/><circle cx="61.0" cy="291.4" r="2.75"/><circle cx="61.0" cy="291.2" r="2.75"/><circle cx="61.0" cy="291.0" r="2.75"/><circle cx="61.0" cy="290.8" r="2.75"/><circle cx="61.0" cy="290.6" r="2.75"/><circle cx="61.0" cy="290.4" r="2.75"/><circle cx="61.0" cy="290.2" r="2.75"/><circle cx="61.0" cy="290.0" r="2.75"/><circle cx="61.0" cy="289.9" r="2.75"/><circle cx="61.0" cy="289.7" r="2.75"/><circle cx="61.0" cy="289.5" r="2.75"/><circle cx="61.0" cy="289.3" r="2.75"/><circle cx="61.0" cy="289.2" r="2.75"/><circle cx="62.0" cy="292.0" r="2.75"/><circle cx="62.0" cy="291.8" r="2.75"/><circle cx="62.0" cy="291.6" r="2.75"/><circle cx="62.0" cy="291.3" r="2.75"/><circle cx="62.0" cy="291.1" r="2.75"/><circle cx="62.0" cy="290.9" r="2.75"/><circle cx="62.0" cy="290.7" r="2.75"/><circle cx="62.0" cy="290.5" r="2.75"/><circle cx="62.0" cy="290.3" r="2.75"/><circle cx="62.0" cy="290.1" r="2.75"/><circle cx="62.0" cy="289.9" r="2.75"/><circle cx="62.0" cy="289.7" r="2.75"/><circle cx="62.0" cy="289.5" r="2.75"/><circle cx="62.0" cy="289.2" r="2.75"/><circle cx="62.0" cy="289.0" r="2.75"/><circle cx="62.0" cy="288.8" r="2.75"/><circle cx="62.0" cy="288.6" r="2.75"/><circle cx="62.0" cy="288.4" r="2.75"/><circle cx="62.0" cy="288.2" r="2.75"/><circle cx="62.0" cy="288.1" r="2.75"/><circle cx="63.0" cy="291.2" r="2.75"/><circle cx="63.0" cy="291.0" r="2.75"/><circle cx="63.0" cy="290.8" r="2.75"/><circle cx="63.0" cy="290.5" r="2.75"/><circle cx="63.0" cy="290.3" r="2.75"/><circle cx="63.0" cy="290.1" r="2.75"/><circle cx="63.0" cy="289.9" r="2.75"/><circle cx="63.0" cy="289.6" r="2.75"/><circle cx="63.0" cy="289.4" r="2.75"/><circle cx="63.0" cy="289.2" r="2.75"/><circle cx="63.0" cy="288.9" r="2.75"/><circle cx="63.0" cy="288.7" r="2.75"/><circle cx="63.0" cy="288.5" r="2.75"/><circle cx="63.0" cy="288.2" r="2.75"/><circle cx="63.0" cy="288.0" r="2.75"/><circle cx="63.0" cy="287.8" r="2.75"/><circle cx="63.0" cy="287.6" r="2.75"/><circle cx="63.0" cy="287.3" r="2.75"/><circle cx="63.0" cy="287.1" r="2.75"/><circle cx="63.0" cy="287.0" r="2.75"/><circle cx="64.0" cy="290.5" r="2.75"/><circle cx="64.0" cy="290.2" r="2.75"/><circle cx="64.0" cy="290.0" r="2.75"/><circle cx="64.0" cy="289.8" r="2.75"/><circle cx="64.0" cy="289.5" r="2.75"/><circle cx="64.0" cy="289.2" r="2.75"/><circle cx="64.0" cy="289.0" r="2.75"/><circle cx="64.0" cy="288.8" r="2.75"/><circle cx="64.0" cy="288.5" r="2.75"/><circle cx="64.0" cy="288.2" r="2.75"/><circle cx="64.0" cy="288.0" r="2.75"/><circle cx="64.0" cy="287.8" r="2.75"/><circle cx="64.0" cy="287.5" r="2.75"/><circle cx="64.0" cy="287.2" r="2.75"/><circle cx="64.0" cy="287.0" r="2.75"/><circle cx="64.0" cy="286.8" r="2.75"/><circle cx="64.0" cy="286.5" r="2.75"/><circle cx="64.0" cy="286.2" r="2.75"/><circle cx="64.0" cy="286.0" r="2.75"/><circle cx="64.0" cy="285.9" r="2.75"/><circle cx="65.0" cy="289.6" r="2.75"/><circle cx="65.0" cy="289.4" r="2.75"/><circle cx="65.0" cy="289.1" r="2.75"/><circle cx="65.0" cy="288.8" r="2.75"/><circle cx="65.0" cy="288.5" r="2.75"/><circle cx="65.0" cy="288.3" r="2.75"/><circle cx="65.0" cy="288.0" r="2.75"/><circle cx="65.0" cy="287.7" r="2.75"/><circle cx="65.0" cy="287.5" r="2.75"/><circle cx="65.0" cy="287.2" r="2.75"/><circle cx="65.0" cy="286.9" r="2.75"/><circle cx="65.0" cy="286.7" r="2.75"/><circle cx="65.0" cy="286.4" r="2.75"/><circle cx="65.0" cy="286.1" r="2.75"/><circle cx="65.0" cy="285.8" r="2.75"/><circle cx="65.0" cy="285.6" r="2.75"/><circle cx="65.0" cy="285.3" r="2.75"/><circle cx="65.0" cy="285.0" r="2.75"/><circle cx="65.0" cy="284.8" r="2.75"/><circle cx="66.0" cy="288.7" r="2.75"/><circle cx="66.0" cy="288.4" r="2.75"/><circle cx="66.0" cy="288.1" r="2.75"/><circle cx="66.0" cy="287.8" r="2.75"/><circle cx="66.0" cy="287.6" r="2.75"/><circle cx="66.0" cy="287.3" r="2.75"/><circle cx="66.0" cy="287.0" r="2.75"/><circle cx="66.0" cy="286.7" r="2.75"/><circle cx="66.0" cy="286.4" r="2.75"/><circle cx="66.0" cy="286.1" r="2.75"/><circle cx="66.0" cy="285.8" r="2.75"/><circle cx="66.0" cy="285.5" r="2.75"/><circle cx="66.0" cy="285.2" r="2.75"/><circle cx="66.0" cy="284.9" r="2.75"/><circle cx="66.0" cy="284.7" r="2.75"/><circle cx="66.0" cy="284.4" r="2.75"/><circle cx="66.0" cy="284.1" r="2.75"/><circle cx="66.0" cy="283.8" r="2.75"/><circle cx="66.0" cy="283.7" r="2.75"/><circle cx="67.0" cy="287.8" r="2.75"/><circle cx="67.0" cy="287.5" r="2.75"/><circle cx="67.0" cy="287.2" r="2.75"/><circle cx="67.0" cy="286.9" r="2.75"/><circle cx="67.0" cy="286.6" r="2.75"/><circle cx="67.0" cy="286.2" r="2.75"/><circle cx="67.0" cy="285.9" r="2.75"/><circle cx="67.0" cy="285.6" r="2.75"/><circle cx="67.0" cy="285.3" r="2.75"/><circle cx="67.0" cy="285.0" r="2.75"/><circle cx="67.0" cy="284.7" r="2.75"/><circle cx="67.0" cy="284.4" r="2.75"/><circle cx="67.0" cy="284.1" r="2.75"/><circle cx="67.0" cy="283.8" r="2.75"/><circle cx="67.0" cy="283.5" r="2.75"/><circle cx="67.0" cy="283.1" r="2.75"/><circle cx="67.0" cy="282.8" r="2.75"/><circle cx="67.0" cy="282.6" r="2.75"/><circle cx="68.0" cy="286.8" r="2.75"/><circle cx="68.0" cy="286.5" r="2.75"/><circle cx="68.0" cy="286.2" r="2.75"/><circle cx="68.0" cy="285.9" r="2.75"/><circle cx="68.0" cy="285.5" r="2.75"/><circle cx="68.0" cy="285.2" r="2.75"/><circle cx="68.0" cy="284.9" r="2.75"/><circle cx="68.0" cy="284.5" r="2.75"/><circle cx="68.0" cy="284.2" r="2.75"/><circle cx="68.0" cy="283.9" r="2.75"/><circle cx="68.0" cy="283.5" r="2.75"/><circle cx="68.0" cy="283.2" r="2.75"/><circle cx="68.0" cy="282.9" r="2.75"/><circle cx="68.0" cy="282.6" r="2.75"/><circle cx="68.0" cy="282.2" r="2.75"/><circle cx="68.0" cy="281.9" r="2.75"/><circle cx="68.0" cy="281.6" r="2.75"/><circle cx="68.0" cy="281.5" r="2.75"/><circle cx="69.0" cy="285.9" r="2.75"/><circle cx="69.0" cy="285.5" r="2.75"/><circle cx="69.0" cy="285.2" r="2.75"/><circle cx="69.0" cy="284.8" r="2.75"/><circle cx="69.0" cy="284.5" r="2.75"/><circle cx="69.0" cy="284.1" r="2.75"/><circle cx="69.0" cy="283.8" r="2.75"/><circle cx="69.0" cy="283.4" r="2.75"/><circle cx="69.0" cy="283.1" r="2.75"/><circle cx="69.0" cy="282.7" r="2.75"/><circle cx="69.0" cy="282.4" r="2.75"/><circle cx="69.0" cy="282.0" r="2.75"/><circle cx="69.0" cy="281.7" r="2.75"/><circle cx="69.0" cy="281.3" r="2.75"/><circle cx="69.0" cy="281.0" r="2.75"/><circle cx="69.0" cy="280.6" r="2.75"/><circle cx="69.0" cy="280.5" r="2.75"/><circle cx="70.0" cy="284.9" r="2.75"/><circle cx="70.0" cy="284.5" r="2.75"/><circle cx="70.0" cy="284.1" r="2.75"/><circle cx="70.0" cy="283.8" r="2.75"/><circle cx="70.0" cy="283.4" r="2.75"/><circle cx="70.0" cy="283.0" r="2.75"/><circle cx="70.0" cy="282.6" r="2.75"/><circle cx="70.0" cy="282.3" r="2.75"/><circle cx="70.0" cy="281.9" r="2.75"/><circle cx="70.0" cy="281.5" r="2.75"/><circle cx="70.0" cy="281.2" r="2.75"/><circle cx="70.0" cy="280.8" r="2.75"/><circle cx="70.0" cy="280.4" r="2.75"/><circle cx="70.0" cy="280.1" r="2.75"/><circle cx="70.0" cy="279.7" r="2.75"/><circle cx="70.0" cy="279.4" r="2.75"/><circle cx="71.0" cy="283.8" r="2.75"/><circle cx="71.0" cy="283.5" r="2.75"/><circle cx="71.0" cy="283.1" r="2.75"/><circle cx="71.0" cy="282.7" r="2.75"/><circle cx="71.0" cy="282.3" r="2.75"/><circle cx="71.0" cy="281.9" r="2.75"/><circle cx="71.0" cy="281.5" r="2.75"/><circle cx="71.0" cy="281.1" r="2.75"/><circle cx="71.0" cy="280.7" r="2.75"/><circle cx="71.0" cy="280.3" r="2.75"/><circle cx="71.0" cy="279.9" r="2.75"/><circle cx="71.0" cy="279.6" r="2.75"/><circle cx="71.0" cy="279.2" r="2.75"/><circle cx="71.0" cy="278.8" r="2.75"/><circle cx="71.0" cy="278.4" r="2.75"/><circle cx="71.0" cy="278.3" r="2.75"/><circle cx="72.0" cy="282.8" r="2.75"/><circle cx="72.0" cy="282.4" r="2.75"/><circle cx="72.0" cy="282.0" r="2.75"/><circle cx="72.0" cy="281.6" r="2.75"/><circle cx="72.0" cy="281.2" r="2.75"/><circle cx="72.0" cy="280.8" r="2.75"/><circle cx="72.0" cy="280.3" r="2.75"/><circle cx="72.0" cy="279.9" r="2.75"/><circle cx="72.0" cy="279.5" r="2.75"/><circle cx="72.0" cy="279.1" r="2.75"/><circle cx="72.0" cy="278.7" r="2.75"/><circle cx="72.0" cy="278.3" r="2.75"/><circle cx="72.0" cy="277.9" r="2.75"/><circle cx="72.0" cy="277.5" r="2.75"/><circle cx="72.0" cy="277.2" r="2.75"/><circle cx="73.0" cy="281.7" r="2.75"/><circle cx="73.0" cy="281.3" r="2.75"/><circle cx="73.0" cy="280.9" r="2.75"/><circle cx="73.0" cy="280.4" r="2.75"/><circle cx="73.0" cy="280.0" r="2.75"/><circle cx="73.0" cy="279.6" r="2.75"/><circle cx="73.0" cy="279.2" r="2.75"/><circle cx="73.0" cy="278.7" r="2.75"/><circle cx="73.0" cy="278.3" r="2.75"/><circle cx="73.0" cy="277.9" r="2.75"/><circle cx="73.0" cy="277.4" r="2.75"/><circle cx="73.0" cy="277.0" r="2.75"/><circle cx="73.0" cy="276.6" r="2.75"/><circle cx="73.0" cy="276.1" r="2.75"/><circle cx="74.0" cy="280.6" r="2.75"/><circle cx="74.0" cy="280.2" r="2.75"/><circle cx="74.0" cy="279.7" r="2.75"/><circle cx="74.0" cy="279.3" r="2.75"/><circle cx="74.0" cy="278.8" r="2.75"/><circle cx="74.0" cy="278.4" r="2.75"/><circle cx="74.0" cy="277.9" r="2.75"/><circle cx="74.0" cy="277.5" r="2.75"/><circle cx="74.0" cy="277.0" r="2.75"/><circle cx="74.0" cy="276.6" r="2.75"/><circle cx="74.0" cy="276.1" r="2.75"/><circle cx="74.0" cy="275.7" r="2.75"/><circle cx="74.0" cy="275.2" r="2.75"/><circle cx="74.0" cy="275.0" r="2.75"/><circle cx="75.0" cy="279.5" r="2.75"/><circle cx="75.0" cy="279.1" r="2.75"/><circle cx="75.0" cy="278.6" r="2.75"/><circle cx="75.0" cy="278.1" r="2.75"/><circle cx="75.0" cy="277.6" r="2.75"/><circle cx="75.0" cy="277.2" r="2.75"/><circle cx="75.0" cy="276.7" r="2.75"/><circle cx="75.0" cy="276.2" r="2.75"/><circle cx="75.0" cy="275.8" r="2.75"/><circle cx="75.0" cy="275.3" r="2.75"/><circle cx="75.0" cy="274.8" r="2.75"/><circle cx="75.0" cy="274.4" r="2.75"/><circle cx="75.0" cy="273.9" r="2.75"/><circle cx="76.0" cy="278.5" r="2.75"/><circle cx="76.0" cy="278.0" r="2.75"/><circle cx="76.0" cy="277.5" r="2.75"/><circle cx="76.0" cy="277.0" r="2.75"/><circle cx="76.0" cy="276.6" r="2.75"/><circle cx="76.0" cy="276.1" r="2.75"/><circle cx="76.0" cy="275.6" r="2.75"/><circle cx="76.0" cy="275.1" r="2.75"/><circle cx="76.0" cy="274.6" r="2.75"/><circle cx="76.0" cy="274.1" r="2.75"/><circle cx="76.0" cy="273.6" r="2.75"/><circle cx="76.0" cy="273.1" r="2.75"/><circle cx="76.0" cy="272.9" r="2.75"/><circle cx="77.0" cy="277.5" r="2.75"/><circle cx="77.0" cy="277.0" r="2.75"/><circle cx="77.0" cy="276.5" r="2.75"/><circle cx="77.0" cy="276.0" r="2.75"/><circle cx="77.0" cy="275.5" r="2.75"/><circle cx="77.0" cy="275.0" r="2.75"/><circle cx="77.0" cy="274.4" r="2.75"/><circle cx="77.0" cy="273.9" r="2.75"/><circle cx="77.0" cy="273.4" r="2.75"/><circle cx="77.0" cy="272.9" r="2.75"/><circle cx="77.0" cy="272.4" r="2.75"/><circle cx="77.0" cy="271.9" r="2.75"/><circle cx="77.0" cy="271.8" r="2.75"/><circle cx="78.0" cy="276.5" r="2.75"/><circle cx="78.0" cy="275.9" r="2.75"/><circle cx="78.0" cy="275.4" r="2.75"/><circle cx="78.0" cy="274.9" r="2.75"/><circle cx="78.0" cy="274.3" r="2.75"/><circle cx="78.0" cy="273.8" r="2.75"/><circle cx="78.0" cy="273.3" r="2.75"/><circle cx="78.0" cy="272.8" r="2.75"/><circle cx="78.0" cy="272.2" r="2.75"/><circle cx="78.0" cy="271.7" r="2.75"/><circle cx="78.0" cy="271.2" r="2.75"/><circle cx="78.0" cy="270.7" r="2.75"/><circle cx="79.0" cy="275.4" r="2.75"/><circle cx="79.0" cy="274.9" r="2.75"/><circle cx="79.0" cy="274.3" r="2.75"/><circle cx="79.0" cy="273.8" r="2.75"/><circle cx="79.0" cy="273.2" r="2.75"/><circle cx="79.0" cy="272.7" r="2.75"/><circle cx="79.0" cy="272.1" r="2.75"/><circle cx="79.0" cy="271.6" r="2.75"/><circle cx="79.0" cy="271.0" r="2.75"/><circle cx="79.0" cy="270.5" r="2.75"/><circle cx="79.0" cy="269.9" r="2.75"/><circle cx="79.0" cy="269.6" r="2.75"/><circle cx="80.0" cy="274.4" r="2.75"/><circle cx="80.0" cy="273.8" r="2.75"/><circle cx="80.0" cy="273.2" r="2.75"/><circle cx="80.0" cy="272.7" r="2.75"/><circle cx="80.0" cy="272.1" r="2.75"/><circle cx="80.0" cy="271.5" r="2.75"/><circle cx="80.0" cy="270.9" r="2.75"/><circle cx="80.0" cy="270.4" r="2.75"/><circle cx="80.0" cy="269.8" r="2.75"/><circle cx="80.0" cy="269.2" r="2.75"/><circle cx="80.0" cy="268.7" r="2.75"/><circle cx="80.0" cy="268.5" r="2.75"/><circle cx="81.0" cy="273.3" r="2.75"/><circle cx="81.0" cy="272.7" r="2.75"/><circle cx="81.0" cy="272.1" r="2.75"/><circle cx="81.0" cy="271.5" r="2.75"/><circle cx="81.0" cy="270.9" r="2.75"/><circle cx="81.0" cy="270.3" r="2.75"/><circle cx="81.0" cy="269.8" r="2.75"/><circle cx="81.0" cy="269.2" r="2.75"/><circle cx="81.0" cy="268.6" r="2.75"/><circle cx="81.0" cy="268.0" r="2.75"/><circle cx="81.0" cy="267.4" r="2.75"/><circle cx="82.0" cy="272.2" r="2.75"/><circle cx="82.0" cy="271.6" r="2.75"/><circle cx="82.0" cy="271.0" r="2.75"/><circle cx="82.0" cy="270.4" r="2.75"/><circle cx="82.0" cy="269.8" r="2.75"/><circle cx="82.0" cy="269.2" r="2.75"/><circle cx="82.0" cy="268.6" r="2.75"/><circle cx="82.0" cy="267.9" r="2.75"/><circle cx="82.0" cy="267.3" r="2.75"/><circle cx="82.0" cy="266.7" r="2.75"/><circle cx="82.0" cy="266.4" r="2.75"/><circle cx="83.0" cy="271.1" r="2.75"/><circle cx="83.0" cy="270.5" r="2.75"/><circle cx="83.0" cy="269.9" r="2.75"/><circle cx="83.0" cy="269.2" r="2.75"/><circle cx="83.0" cy="268.6" r="2.75"/><circle cx="83.0" cy="268.0" r="2.75"/><circle cx="83.0" cy="267.3" r="2.75"/><circle cx="83.0" cy="266.7" r="2.75"/><circle cx="83.0" cy="266.1" r="2.75"/><circle cx="83.0" cy="265.5" r="2.75"/><circle cx="83.0" cy="265.3" r="2.75"/><circle cx="84.0" cy="270.0" r="2.75"/><circle cx="84.0" cy="269.4" r="2.75"/><circle cx="84.0" cy="268.7" r="2.75"/><circle cx="84.0" cy="268.1" r="2.75"/><circle cx="84.0" cy="267.4" r="2.75"/><circle cx="84.0" cy="266.8" r="2.75"/><circle cx="84.0" cy="266.1" r="2.75"/><circle cx="84.0" cy="265.5" r="2.75"/><circle cx="84.0" cy="264.8" r="2.75"/><circle cx="84.0" cy="264.2" r="2.75"/><circle cx="85.0" cy="268.9" r="2.75"/><circle cx="85.0" cy="268.2" r="2.75"/><circle cx="85.0" cy="267.6" r="2.75"/><circle cx="85.0" cy="266.9" r="2.75"/><circle cx="85.0" cy="266.2" r="2.75"/><circle cx="85.0" cy="265.5" r="2.75"/><circle cx="85.0" cy="264.9" r="2.75"/><circle cx="85.0" cy="264.2" r="2.75"/><circle cx="85.0" cy="263.5" r="2.75"/><circle cx="85.0" cy="263.1" r="2.75"/><circle cx="86.0" cy="267.8" r="2.75"/><circle cx="86.0" cy="267.1" r="2.75"/><circle cx="86.0" cy="266.4" r="2.75"/><circle cx="86.0" cy="265.7" r="2.75"/><circle cx="86.0" cy="265.0" r="2.75"/><circle cx="86.0" cy="264.3" r="2.75"/><circle cx="86.0" cy="263.6" r="2.75"/><circle cx="86.0" cy="262.9" r="2.75"/><circle cx="86.0" cy="262.2" r="2.75"/><circle cx="86.0" cy="262.0" r="2.75"/><circle cx="87.0" cy="266.4" r="2.75"/><circle cx="87.0" cy="265.7" r="2.75"/><circle cx="87.0" cy="265.0" r="2.75"/><circle cx="87.0" cy="264.3" r="2.75"/><circle cx="87.0" cy="263.6" r="2.75"/><circle cx="87.0" cy="262.9" r="2.75"/><circle cx="87.0" cy="262.2" r="2.75"/><circle cx="87.0" cy="261.5" r="2.75"/><circle cx="87.0" cy="260.9" r="2.75"/><circle cx="88.0" cy="265.1" r="2.75"/><circle cx="88.0" cy="264.4" r="2.75"/><circle cx="88.0" cy="263.7" r="2.75"/><circle cx="88.0" cy="262.9" r="2.75"/><circle cx="88.0" cy="262.2" r="2.75"/><circle cx="88.0" cy="261.5" r="2.75"/><circle cx="88.0" cy="260.7" r="2.75"/><circle cx="88.0" cy="260.0" r="2.75"/><circle cx="88.0" cy="259.9" r="2.75"/><circle cx="89.0" cy="263.8" r="2.75"/><circle cx="89.0" cy="263.0" r="2.75"/><circle cx="89.0" cy="262.3" r="2.75"/><circle cx="89.0" cy="261.5" r="2.75"/><circle cx="89.0" cy="260.8" r="2.75"/><circle cx="89.0" cy="260.0" r="2.75"/><circle cx="89.0" cy="259.3" r="2.75"/><circle cx="89.0" cy="258.8" r="2.75"/><circle cx="90.0" cy="262.4" r="2.75"/><circle cx="90.0" cy="261.6" r="2.75"/><circle cx="90.0" cy="260.8" r="2.75"/><circle cx="90.0" cy="260.1" r="2.75"/><circle cx="90.0" cy="259.3" r="2.75"/><circle cx="90.0" cy="258.5" r="2.75"/><circle cx="90.0" cy="257.8" r="2.75"/><circle cx="90.0" cy="257.7" r="2.75"/><circle cx="91.0" cy="261.0" r="2.75"/><circle cx="91.0" cy="260.2" r="2.75"/><circle cx="91.0" cy="259.4" r="2.75"/><circle cx="91.0" cy="258.6" r="2.75"/><circle cx="91.0" cy="257.8" r="2.75"/><circle cx="91.0" cy="257.0" r="2.75"/><circle cx="91.0" cy="256.6" r="2.75"/><circle cx="92.0" cy="259.6" r="2.75"/><circle cx="92.0" cy="258.8" r="2.75"/><circle cx="92.0" cy="257.9" r="2.75"/><circle cx="92.0" cy="257.1" r="2.75"/><circle cx="92.0" cy="256.3" r="2.75"/><circle cx="92.0" cy="255.5" r="2.75"/><circle cx="93.0" cy="258.1" r="2.75"/><circle cx="93.0" cy="257.3" r="2.75"/><circle cx="93.0" cy="256.5" r="2.75"/><circle cx="93.0" cy="255.6" r="2.75"/><circle cx="93.0" cy="254.8" r="2.75"/><circle cx="93.0" cy="254.4" r="2.75"/><circle cx="94.0" cy="256.7" r="2.75"/><circle cx="94.0" cy="255.8" r="2.75"/><circle cx="94.0" cy="255.0" r="2.75"/><circle cx="94.0" cy="254.1" r="2.75"/><circle cx="94.0" cy="253.4" r="2.75"/><circle cx="95.0" cy="255.2" r="2.75"/><circle cx="95.0" cy="254.3" r="2.75"/><circle cx="95.0" cy="253.4" r="2.75"/><circle cx="95.0" cy="252.6" r="2.75"/><circle cx="95.0" cy="252.3" r="2.75"/><circle cx="96.0" cy="253.7" r="2.75"/><circle cx="96.0" cy="252.8" r="2.75"/><circle cx="96.0" cy="251.9" r="2.75"/><circle cx="96.0" cy="251.2" r="2.75"/><circle cx="97.0" cy="252.5" r="2.75"/><circle cx="97.0" cy="251.6" r="2.75"/><circle cx="97.0" cy="250.7" r="2.75"/><circle cx="97.0" cy="250.1" r="2.75"/><circle cx="98.0" cy="251.4" r="2.75"/><circle cx="98.0" cy="250.5" r="2.75"/><circle cx="98.0" cy="249.5" r="2.75"/><circle cx="98.0" cy="249.0" r="2.75"/><circle cx="99.0" cy="250.3" r="2.75"/><circle cx="99.0" cy="249.3" r="2.75"/><circle cx="99.0" cy="248.4" r="2.75"/><circle cx="99.0" cy="248.0" r="2.75"/><circle cx="100.0" cy="249.1" r="2.75"/><circle cx="100.0" cy="248.2" r="2.75"/><circle cx="100.0" cy="247.2" r="2.75"/><circle cx="100.0" cy="246.9" r="2.75"/><circle cx="101.0" cy="248.0" r="2.75"/><circle cx="101.0" cy="247.0" r="2.75"/><circle cx="101.0" cy="246.0" r="2.75"/><circle cx="101.0" cy="245.8" r="2.75"/><circle cx="102.0" cy="246.8" r="2.75"/><circle cx="102.0" cy="245.8" r="2.75"/><circle cx="102.0" cy="244.8" r="2.75"/><circle cx="102.0" cy="244.6" r="2.75"/><circle cx="103.0" cy="245.7" r="2.75"/><circle cx="103.0" cy="244.7" r="2.75"/><circle cx="103.0" cy="243.6" r="2.75"/><circle cx="103.0" cy="243.5" r="2.75"/><circle cx="104.0" cy="244.5" r="2.75"/><circle cx="104.0" cy="243.5" r="2.75"/><circle cx="104.0" cy="242.4" r="2.75"/><circle cx="105.0" cy="243.4" r="2.75"/><circle cx="105.0" cy="242.3" r="2.75"/><circle cx="105.0" cy="241.2" r="2.75"/><circle cx="106.0" cy="242.2" r="2.75"/><circle cx="106.0" cy="241.1" r="2.75"/><circle cx="106.0" cy="240.1" r="2.75"/><circle cx="107.0" cy="241.0" r="2.75"/><circle cx="107.0" cy="239.9" r="2.75"/><circle cx="107.0" cy="239.0" r="2.75"/><circle cx="108.0" cy="239.9" r="2.75"/><circle cx="108.0" cy="238.7" r="2.75"/><circle cx="108.0" cy="237.9" r="2.75"/><circle cx="109.0" cy="238.7" r="2.75"/><circle cx="109.0" cy="237.5" r="2.75"/><circle cx="109.0" cy="236.9" r="2.75"/><circle cx="110.0" cy="237.5" r="2.75"/><circle cx="110.0" cy="236.3" r="2.75"/><circle cx="110.0" cy="235.8" r="2.75"/><circle cx="111.0" cy="236.5" r="2.75"/><circle cx="111.0" cy="235.3" r="2.75"/><circle cx="111.0" cy="234.7" r="2.75"/><circle cx="112.0" cy="235.4" r="2.75"/><circle cx="112.0" cy="234.2" r="2.75"/><circle cx="112.0" cy="233.6" r="2.75"/><circle cx="113.0" cy="234.4" r="2.75"/><circle cx="113.0" cy="233.2" r="2.75"/><circle cx="113.0" cy="232.6" r="2.75"/><circle cx="114.0" cy="233.4" r="2.75"/><circle cx="114.0" cy="232.1" r="2.75"/><circle cx="114.0" cy="231.5" r="2.75"/><circle cx="115.0" cy="232.3" r="2.75"/><circle cx="115.0" cy="231.1" r="2.75"/><circle cx="115.0" cy="230.4" r="2.75"/><circle cx="116.0" cy="231.3" r="2.75"/><circle cx="116.0" cy="230.0" r="2.75"/><circle cx="116.0" cy="229.3" r="2.75"/><circle cx="117.0" cy="230.3" r="2.75"/><circle cx="117.0" cy="229.0" r="2.75"/><circle cx="117.0" cy="228.3" r="2.75"/><circle cx="118.0" cy="229.3" r="2.75"/><circle cx="118.0" cy="227.9" r="2.75"/><circle cx="118.0" cy="227.4" r="2.75"/><circle cx="119.0" cy="228.3" r="2.75"/><circle cx="119.0" cy="226.9" r="2.75"/><circle cx="119.0" cy="226.4" r="2.75"/><circle cx="120.0" cy="227.2" r="2.75"/><circle cx="120.0" cy="225.9" r="2.75"/><circle cx="120.0" cy="225.4" r="2.75"/><circle cx="121.0" cy="226.2" r="2.75"/><circle cx="121.0" cy="224.8" r="2.75"/><circle cx="121.0" cy="224.4" r="2.75"/><circle cx="122.0" cy="225.2" r="2.75"/><circle cx="122.0" cy="223.8" r="2.75"/><circle cx="122.0" cy="223.5" r="2.75"/><circle cx="123.0" cy="224.2" r="2.75"/><circle cx="123.0" cy="222.7" r="2.75"/><circle cx="123.0" cy="222.5" r="2.75"/><circle cx="124.0" cy="223.2" r="2.75"/><circle cx="124.0" cy="221.7" r="2.75"/><circle cx="124.0" cy="221.5" r="2.75"/><circle cx="125.0" cy="222.1" r="2.75"/><circle cx="125.0" cy="220.7" r="2.75"/><circle cx="125.0" cy="220.6" r="2.75"/><circle cx="126.0" cy="221.1" r="2.75"/><circle cx="126.0" cy="219.6" r="2.75"/><circle cx="126.0" cy="219.5" r="2.75"/><circle cx="127.0" cy="220.1" r="2.75"/><circle cx="127.0" cy="218.6" r="2.75"/><circle cx="127.0" cy="218.5" r="2.75"/><circle cx="128.0" cy="219.1" r="2.75"/><circle cx="128.0" cy="217.6" r="2.75"/><circle cx="128.0" cy="217.4" r="2.75"/><circle cx="86.4" cy="264.1" r="2.75"/><circle cx="122.2" cy="224.2" r="2.75"/><circle cx="90.6" cy="258.8" r="2.75"/><circle cx="99.9" cy="247.2" r="2.75"/><circle cx="59.2" cy="293.2" r="2.75"/><circle cx="58.9" cy="291.9" r="2.75"/><circle cx="104.7" cy="244.1" r="2.75"/><circle cx="126.6" cy="218.2" r="2.75"/><circle cx="101.7" cy="245.7" r="2.75"/><circle cx="64.0" cy="290.6" r="2.75"/><circle cx="92.2" cy="259.5" r="2.75"/><circle cx="66.5" cy="287.1" r="2.75"/><circle cx="54.3" cy="297.0" r="2.75"/><circle cx="85.5" cy="263.3" r="2.75"/><circle cx="91.5" cy="257.5" r="2.75"/><circle cx="90.0" cy="259.2" r="2.75"/><circle cx="86.8" cy="265.4" r="2.75"/><circle cx="127.8" cy="216.9" r="2.75"/><circle cx="115.9" cy="229.8" r="2.75"/><circle cx="76.0" cy="277.4" r="2.75"/><circle cx="74.0" cy="280.5" r="2.75"/><circle cx="110.2" cy="236.7" r="2.75"/><circle cx="116.3" cy="230.4" r="2.75"/><circle cx="124.8" cy="220.5" r="2.75"/><circle cx="121.2" cy="225.2" r="2.75"/><circle cx="126.5" cy="220.1" r="2.75"/><circle cx="57.6" cy="293.7" r="2.75"/><circle cx="111.2" cy="236.1" r="2.75"/><circle cx="58.6" cy="293.6" r="2.75"/><circle cx="125.3" cy="220.3" r="2.75"/><circle cx="59.7" cy="293.6" r="2.75"/><circle cx="112.6" cy="234.9" r="2.75"/><circle cx="94.5" cy="254.6" r="2.75"/><circle cx="66.5" cy="284.5" r="2.75"/><circle cx="60.9" cy="291.4" r="2.75"/><circle cx="68.2" cy="285.3" r="2.75"/><circle cx="145.7" cy="197.8" r="2.75"/><circle cx="160.7" cy="185.9" r="2.75"/><circle cx="154.0" cy="189.3" r="2.75"/><circle cx="150.5" cy="196.0" r="2.75"/><circle cx="128.9" cy="217.5" r="2.75"/><circle cx="153.4" cy="192.6" r="2.75"/><circle cx="145.1" cy="200.5" r="2.75"/><circle cx="156.8" cy="185.5" r="2.75"/><circle cx="141.7" cy="201.9" r="2.75"/><circle cx="130.1" cy="215.6" r="2.75"/><circle cx="157.8" cy="189.3" r="2.75"/><circle cx="152.0" cy="192.0" r="2.75"/><circle cx="160.5" cy="186.5" r="2.75"/><circle cx="146.4" cy="196.7" r="2.75"/><circle cx="149.7" cy="195.7" r="2.75"/><circle cx="130.8" cy="214.6" r="2.75"/><circle cx="144.1" cy="198.9" r="2.75"/><circle cx="132.8" cy="212.7" r="2.75"/><circle cx="155.7" cy="186.6" r="2.75"/><circle cx="128.6" cy="217.9" r="2.75"/><circle cx="129.8" cy="216.0" r="2.75"/><circle cx="140.1" cy="204.0" r="2.75"/><circle cx="140.7" cy="203.7" r="2.75"/><circle cx="157.5" cy="189.0" r="2.75"/><circle cx="146.9" cy="195.7" r="2.75"/><circle cx="145.9" cy="199.4" r="2.75"/><circle cx="137.1" cy="208.0" r="2.75"/><circle cx="134.6" cy="211.3" r="2.75"/><circle cx="146.9" cy="197.6" r="2.75"/><circle cx="132.4" cy="213.4" r="2.75"/><circle cx="159.2" cy="187.1" r="2.75"/><circle cx="139.3" cy="205.1" r="2.75"/><circle cx="147.7" cy="198.0" r="2.75"/><circle cx="128.3" cy="217.5" r="2.75"/><circle cx="139.8" cy="205.6" r="2.75"/><circle cx="137.3" cy="208.1" r="2.75"/><circle cx="152.8" cy="192.8" r="2.75"/><circle cx="130.6" cy="214.8" r="2.75"/><circle cx="158.9" cy="189.1" r="2.75"/><circle cx="147.2" cy="196.6" r="2.75"/><circle cx="141.7" cy="202.7" r="2.75"/><circle cx="160.6" cy="184.1" r="2.75"/><circle cx="141.3" cy="204.7" r="2.75"/><circle cx="136.5" cy="209.9" r="2.75"/><circle cx="131.8" cy="214.9" r="2.75"/><circle cx="160.3" cy="182.4" r="2.75"/><circle cx="160.2" cy="181.2" r="2.75"/><circle cx="163.1" cy="181.4" r="2.75"/><circle cx="163.1" cy="180.3" r="2.75"/><circle cx="164.2" cy="181.2" r="2.75"/><circle cx="163.7" cy="179.3" r="2.75"/><circle cx="166.0" cy="175.8" r="2.75"/><circle cx="166.1" cy="180.1" r="2.75"/><circle cx="166.8" cy="178.8" r="2.75"/><circle cx="167.0" cy="174.6" r="2.75"/><circle cx="168.7" cy="173.0" r="2.75"/><circle cx="171.4" cy="171.4" r="2.75"/><circle cx="171.8" cy="170.0" r="2.75"/><circle cx="174.3" cy="170.8" r="2.75"/><circle cx="175.8" cy="170.5" r="2.75"/><circle cx="175.5" cy="167.7" r="2.75"/><circle cx="178.6" cy="167.0" r="2.75"/><circle cx="178.1" cy="166.1" r="2.75"/><circle cx="180.8" cy="166.3" r="2.75"/><circle cx="180.5" cy="166.5" r="2.75"/><circle cx="182.7" cy="160.1" r="2.75"/><circle cx="182.4" cy="161.2" r="2.75"/><circle cx="183.9" cy="158.0" r="2.75"/><circle cx="184.7" cy="159.0" r="2.75"/><circle cx="187.0" cy="158.3" r="2.75"/><circle cx="186.5" cy="156.4" r="2.75"/><circle cx="188.9" cy="153.7" r="2.75"/><circle cx="189.0" cy="153.3" r="2.75"/><circle cx="191.0" cy="151.8" r="2.75"/><circle cx="191.2" cy="151.8" r="2.75"/><circle cx="192.5" cy="153.4" r="2.75"/><circle cx="193.1" cy="153.5" r="2.75"/><circle cx="196.2" cy="151.2" r="2.75"/><circle cx="195.6" cy="149.2" r="2.75"/><circle cx="197.3" cy="146.5" r="2.75"/><circle cx="196.9" cy="148.1" r="2.75"/><circle cx="200.4" cy="145.3" r="2.75"/><circle cx="200.3" cy="146.7" r="2.75"/><circle cx="202.4" cy="141.7" r="2.75"/><circle cx="202.4" cy="143.0" r="2.75"/><circle cx="205.9" cy="140.5" r="2.75"/><circle cx="205.8" cy="139.2" r="2.75"/><circle cx="207.3" cy="137.8" r="2.75"/><circle cx="207.2" cy="139.2" r="2.75"/><circle cx="209.3" cy="135.6" r="2.75"/><circle cx="208.9" cy="136.7" r="2.75"/><circle cx="210.9" cy="136.1" r="2.75"/><circle cx="210.5" cy="134.4" r="2.75"/><circle cx="213.3" cy="132.7" r="2.75"/><circle cx="213.0" cy="132.5" r="2.75"/><circle cx="215.8" cy="131.0" r="2.75"/><circle cx="215.3" cy="130.6" r="2.75"/><circle cx="231.6" cy="115.1" r="2.75"/><circle cx="228.8" cy="117.4" r="2.75"/><circle cx="245.6" cy="99.8" r="2.75"/><circle cx="243.3" cy="102.8" r="2.75"/><circle cx="252.0" cy="94.5" r="2.75"/><circle cx="258.1" cy="87.8" r="2.75"/><circle cx="264.0" cy="80.5" r="2.75"/><circle cx="276.2" cy="70.6" r="2.75"/><circle cx="277.0" cy="69.2" r="2.75"/><circle cx="282.6" cy="64.0" r="2.75"/><circle cx="282.8" cy="62.5" r="2.75"/><circle cx="288.4" cy="58.1" r="2.75"/><circle cx="293.6" cy="52.6" r="2.75"/><circle cx="297.4" cy="48.8" r="2.75"/><circle cx="301.2" cy="44.2" r="2.75"/><circle cx="303.2" cy="43.0" r="2.75"/><circle cx="323.5" cy="23.0" r="2.75"/><circle cx="324.0" cy="20.5" r="2.75"/><circle cx="337.2" cy="8.5" r="2.75"/><circle cx="154.0" cy="207.6" r="2.75"/><circle cx="146.5" cy="212.8" r="2.75"/><circle cx="136.7" cy="222.3" r="2.75"/><circle cx="115.9" cy="239.9" r="2.75"/><circle cx="113.1" cy="240.6" r="2.75"/><circle cx="102.3" cy="252.3" r="2.75"/><circle cx="93.6" cy="261.6" r="2.75"/><circle cx="112.8" cy="242.4" r="2.75"/><circle cx="80.9" cy="275.2" r="2.75"/><circle cx="76.3" cy="278.7" r="2.75"/><circle cx="94.5" cy="263.0" r="2.75"/><circle cx="60.5" cy="294.0" r="2.75"/><circle cx="74.4" cy="280.0" r="2.75"/><circle cx="80.2" cy="275.3" r="2.75"/><circle cx="90.0" cy="268.0" r="2.75"/></g></g>
<rect x="216.5" y="159.2" width="111.8" height="110.8" fill="#fff" stroke="#555" stroke-width="1"/><line x1="232.5" y1="270.0" x2="232.5" y2="267.5" stroke="#555" stroke-width="1"/><line x1="232.5" y1="159.2" x2="232.5" y2="161.7" stroke="#555" stroke-width="1"/><line x1="264.4" y1="270.0" x2="264.4" y2="267.5" stroke="#555" stroke-width="1"/><line x1="264.4" y1="159.2" x2="264.4" y2="161.7" stroke="#555" stroke-width="1"/><line x1="296.4" y1="270.0" x2="296.4" y2="267.5" stroke="#555" stroke-width="1"/><line x1="296.4" y1="159.2" x2="296.4" y2="161.7" stroke="#555" stroke-width="1"/><line x1="216.5" y1="247.8" x2="219.0" y2="247.8" stroke="#555" stroke-width="1"/><line x1="328.3" y1="247.8" x2="325.8" y2="247.8" stroke="#555" stroke-width="1"/><line x1="216.5" y1="225.7" x2="219.0" y2="225.7" stroke="#555" stroke-width="1"/><line x1="328.3" y1="225.7" x2="325.8" y2="225.7" stroke="#555" stroke-width="1"/><line x1="216.5" y1="203.5" x2="219.0" y2="203.5" stroke="#555" stroke-width="1"/><line x1="328.3" y1="203.5" x2="325.8" y2="203.5" stroke="#555" stroke-width="1"/><line x1="216.5" y1="181.4" x2="219.0" y2="181.4" stroke="#555" stroke-width="1"/><line x1="328.3" y1="181.4" x2="325.8" y2="181.4" stroke="#555" stroke-width="1"/>
<g><polyline points="216.50,269.56 217.32,269.56 218.17,268.60 218.76,269.07 219.72,267.89 220.39,268.81 221.17,266.39 221.99,266.57 222.20,214.60 222.30,214.60 222.51,266.57 223.57,266.51 224.48,263.95 225.07,265.81 225.51,264.13 225.72,169.73 225.81,169.73 226.02,264.13 226.49,265.00 227.27,261.53 228.06,261.97 228.27,212.94 228.37,212.94 228.57,261.97 229.18,261.03 229.39,185.24 229.48,185.24 229.69,261.03 230.20,261.71 231.20,257.89 231.81,260.23 232.54,258.81 232.74,217.37 232.84,217.37 233.05,258.81 233.33,258.53 233.54,217.37 233.64,217.37 233.84,258.53 233.94,256.96 234.69,259.36 235.53,256.29 236.52,259.24 236.85,257.31 237.06,235.65 237.15,235.65 237.36,257.31 237.52,255.17" fill="none" stroke="#c04a1c" stroke-width="1.15" stroke-linejoin="round"/><polyline points="274.64,248.95 275.19,241.19 275.35,241.19 275.91,250.06" fill="none" stroke="#c04a1c" stroke-width="1.25" stroke-linejoin="round"/><polyline points="286.45,251.10 287.06,255.61 287.70,251.41 288.45,256.99 289.39,248.95 290.06,255.53 290.75,250.55 291.36,254.30 292.43,257.44 292.64,235.65 292.73,235.65 292.94,257.44 293.31,263.01 293.96,262.19 294.82,266.03 295.79,265.78 296.39,267.64 297.27,266.52 297.91,267.91 298.51,266.65 299.49,268.34 300.19,267.07 301.02,268.53 301.99,267.44 302.75,268.39 303.29,267.96 303.50,256.70 303.59,256.70 303.80,267.96 304.22,268.47 304.80,267.83 305.66,268.32 306.47,267.75 307.12,268.12 307.33,263.91 307.43,263.91 307.63,268.12 307.85,267.84 308.50,268.56 309.19,267.92 310.11,268.50 310.32,268.26 310.52,263.91 310.62,263.91 310.83,268.26 310.94,267.82 311.54,268.47 312.21,267.93 313.07,268.58 313.78,268.19 314.56,268.57 315.46,268.03 316.47,268.84 317.49,268.38 318.19,268.96 319.12,268.33 320.13,268.91 321.08,268.44 321.73,268.90 322.36,268.47 323.38,268.92 323.94,268.62 324.58,269.07 325.31,268.61 325.92,269.16 326.68,268.68 327.27,268.97 327.91,268.62" fill="none" stroke="#c04a1c" stroke-width="1.25" stroke-linejoin="round"/><polyline points="216.50,269.56 217.41,269.56 218.42,268.26 219.43,269.53 220.21,266.79 221.08,269.56 221.69,266.58 222.37,269.56 223.20,266.59 223.87,268.81 224.86,263.22 225.50,269.46 226.12,262.38 226.74,266.48 227.72,262.21 228.38,268.77 229.36,259.72 230.38,265.40 231.26,260.03 231.47,247.84 231.56,247.84 231.77,260.03 232.27,264.47 233.30,250.82 233.65,256.43 233.86,240.08 233.96,240.08 234.16,256.43 234.64,252.04 235.23,258.24 236.07,250.57 236.37,252.72 236.58,235.65 236.67,235.65 236.88,252.72 237.49,251.94 237.69,236.76 237.79,236.76 238.00,251.94 238.29,251.39 238.49,243.41 238.59,243.41 238.80,251.39 239.24,244.32 239.83,259.56 240.40,244.17" fill="none" stroke="#dfa626" stroke-width="1.25" stroke-linejoin="round"/><polyline points="257.55,242.71 258.37,252.14 259.04,243.11 259.99,250.32 260.76,244.18 261.75,247.64 262.55,240.75 263.17,250.78 264.18,242.50 265.12,249.94 265.89,247.25 266.85,253.27 267.63,247.71 268.60,257.05 269.37,249.14 270.28,252.14 270.98,246.94 271.61,250.40 272.64,245.07 273.50,249.80 274.06,247.84 274.27,224.57 274.36,224.57 274.57,247.84 274.91,250.25 275.88,248.80 276.82,256.31 277.71,255.47 278.64,261.95 279.53,261.53 280.32,266.20 281.21,262.50 282.23,266.27 283.06,258.79 283.88,259.14 284.76,253.26 285.72,259.76 286.66,252.93 287.52,259.49 288.48,252.48 289.44,259.51 290.33,249.87 291.35,257.84 292.16,254.32 293.12,264.24 293.91,258.73 294.81,266.90 295.45,262.84 296.29,265.90 297.05,265.44 297.98,268.54 298.89,267.81 299.52,268.87 300.39,268.25 301.28,269.46 301.86,268.43 302.53,269.12 303.15,268.56 303.80,269.15" fill="none" stroke="#dfa626" stroke-width="1.25" stroke-linejoin="round"/><polyline points="233.75,265.57 234.23,247.84 234.71,258.92 235.35,246.73 235.99,254.49 236.62,258.92 237.10,252.27 237.58,263.35 238.22,251.16 238.86,257.81 239.34,247.84 239.82,243.78 240.20,250.72 240.41,209.06 240.51,209.06 240.71,250.72 240.93,256.14 242.39,244.63 243.59,258.45 244.48,241.01 245.63,248.43 245.84,160.31 245.94,160.31 246.14,248.43 246.88,239.71 248.04,256.53 248.99,241.67 249.91,255.35 251.38,247.84 251.59,164.74 251.69,164.74 251.89,247.84 252.81,254.74 254.18,242.35 255.23,256.19 256.59,240.75 257.49,254.16 257.77,247.84 257.98,175.82 258.07,175.82 258.28,247.84 258.48,241.45" fill="none" stroke="#3a5cba" stroke-width="1.25" stroke-linejoin="round"/><polyline points="278.47,262.24 279.27,260.03 279.91,266.68 280.39,262.24 281.02,265.57 281.66,262.24" fill="none" stroke="#3a5cba" stroke-width="1.25" stroke-linejoin="round"/><polyline points="264.89,251.16 265.44,247.84 265.63,212.38 265.76,212.38 266.01,252.27 266.65,255.60 267.13,258.37 267.61,256.70 268.09,258.92" fill="none" stroke="#3a5cba" stroke-width="1.25" stroke-linejoin="round"/></g>
<text transform="translate(52.10,317.4) scale(0.95,1)" text-anchor="middle" class="tk">0</text><text transform="translate(42.0,306.00) scale(0.95,1)" text-anchor="end" class="tk">0</text><text transform="translate(111.10,317.4) scale(0.95,1)" text-anchor="middle" class="tk">0.2</text><text transform="translate(42.0,247.00) scale(0.95,1)" text-anchor="end" class="tk">0.2</text><text transform="translate(170.10,317.4) scale(0.95,1)" text-anchor="middle" class="tk">0.4</text><text transform="translate(42.0,188.00) scale(0.95,1)" text-anchor="end" class="tk">0.4</text><text transform="translate(229.10,317.4) scale(0.95,1)" text-anchor="middle" class="tk">0.6</text><text transform="translate(42.0,129.00) scale(0.95,1)" text-anchor="end" class="tk">0.6</text><text transform="translate(288.10,317.4) scale(0.95,1)" text-anchor="middle" class="tk">0.8</text><text transform="translate(42.0,70.00) scale(0.95,1)" text-anchor="end" class="tk">0.8</text><text transform="translate(347.10,317.4) scale(0.95,1)" text-anchor="middle" class="tk">1.0</text><text transform="translate(42.0,11.00) scale(0.95,1)" text-anchor="end" class="tk">1.0</text><text x="130" y="334.8" class="ti">Intensity<tspan class="sb" dy="5.8">90% CO</tspan><tspan class="ss" dy="2">2</tspan><tspan class="sb" dy="-2">, 10% Air</tspan></text><text transform="translate(12.2,220.4) rotate(-90)" class="ti">Intensity<tspan class="sb" dy="5.8">90% CO</tspan><tspan class="ss" dy="2">2</tspan><tspan class="sb" dy="-2">, 10% N</tspan><tspan class="ss" dy="2">2</tspan></text><text x="232.5" y="281" text-anchor="middle" class="it">400</text><text x="264.4" y="281" text-anchor="middle" class="it">600</text><text x="296.4" y="281" text-anchor="middle" class="it">800</text><text x="328.3" y="281" text-anchor="middle" class="it">1000</text><text x="213.6" y="274.3" text-anchor="end" class="it">0</text><text x="213.6" y="252.1" text-anchor="end" class="it">0.2</text><text x="213.6" y="230.0" text-anchor="end" class="it">0.4</text><text x="213.6" y="207.8" text-anchor="end" class="it">0.6</text><text x="213.6" y="185.7" text-anchor="end" class="it">0.8</text><text x="213.6" y="163.5" text-anchor="end" class="it">1.0</text><text x="272.4" y="292.4" text-anchor="middle" class="it">λ [nm]</text><text transform="translate(194.1,213.5) rotate(-90)" text-anchor="middle" class="it" font-style="italic">Intensity</text><text x="274" y="175.3" class="it">90% CO<tspan class="iss" dy="3.2">2</tspan></text><text x="274.3" y="190.4" class="it">10% N<tspan class="iss" dy="3.2">2</tspan></text>
</svg>
</body></html>
